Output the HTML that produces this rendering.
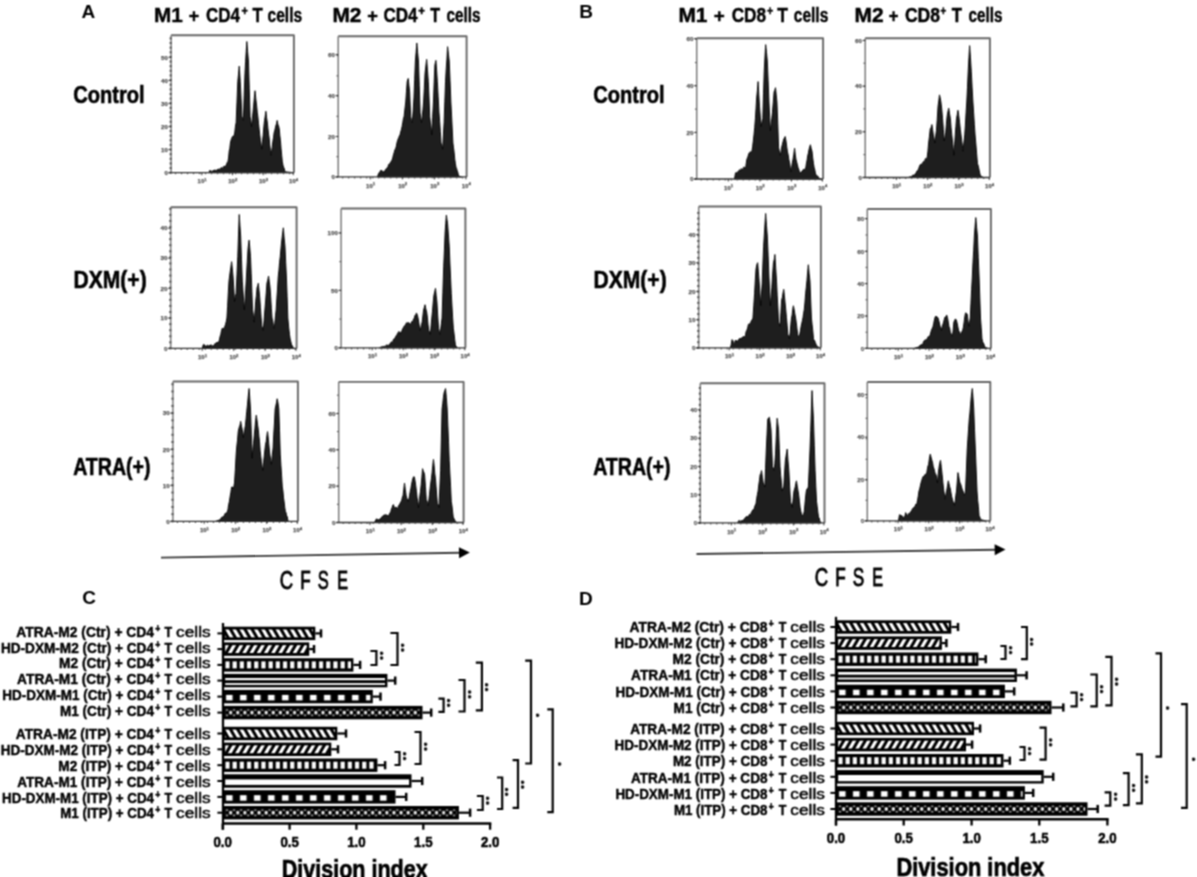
<!DOCTYPE html>
<html><head><meta charset="utf-8"><title>Figure</title>
<style>
html,body{margin:0;padding:0;background:#fff;}
body{width:1197px;height:877px;overflow:hidden;}
svg{display:block;will-change:transform;font-family:"Liberation Sans",Arial,Helvetica,sans-serif;}
</style></head><body>
<svg width="1197" height="877" viewBox="0 0 1197 877">
<filter id="soft" x="0" y="0" width="1197" height="877" filterUnits="userSpaceOnUse" color-interpolation-filters="sRGB"><feConvolveMatrix order="3" kernelMatrix="1 2 1 2 4 2 1 2 1" divisor="16.0" edgeMode="duplicate" preserveAlpha="false"/></filter>
<g filter="url(#soft)">
<rect width="1197" height="877" fill="#fff"/>
<path d="M209.08,172.7 L209.08,172.7 L209.49,170.65 L210.17,170.42 L210.85,171.06 L211.54,171.27 L212.22,171.16 L212.91,171.06 L213.59,170.1 L214.27,171.23 L214.96,169.7 L215.64,170.65 L216.32,170.57 L217.01,169.98 L217.69,169.05 L218.38,169.99 L219.06,168.66 L219.74,169.63 L220.38,169.08 L221.03,167.8 L221.67,167.47 L222.31,167.9 L222.95,168.51 L223.59,166.39 L224.23,166.26 L224.87,166.55 L225.49,165.84 L226.1,165.6 L226.72,163.67 L227.33,162.2 L227.95,161.43 L228.56,157.99 L229.18,151.09 L229.79,148.48 L230.41,142.98 L231.03,140.21 L231.64,138.47 L232.26,136.93 L232.87,136.2 L233.49,136 L234.1,135.81 L234.79,132.15 L235.47,126.14 L236.15,122.49 L236.97,102.19 L237.79,81.5 L238.51,74.15 L239.23,66.13 L240.26,81.5 L241.08,98.6 L241.9,116.34 L242.62,118.51 L243.33,120.44 L244.15,95.79 L244.97,73.3 L245.59,61.63 L246.21,51.4 L246.82,41.53 L247.64,51.71 L248.46,61 L249.28,88.49 L250.1,116.34 L250.82,121.01 L251.54,126.59 L252.22,119.97 L252.91,112.81 L253.59,106.09 L254.31,97.91 L255.03,90.72 L255.85,99.13 L256.67,106.09 L257.28,112.32 L257.9,116.94 L258.51,123.49 L259.13,129.11 L259.74,134.78 L260.43,140.49 L261.11,144.91 L261.79,149.13 L262.48,141.09 L263.16,135.28 L263.85,126.59 L264.53,120.52 L265.21,116.14 L265.9,111.22 L266.58,117.65 L267.26,121.97 L267.95,128.64 L268.56,133.94 L269.18,138.16 L269.79,145.04 L270.41,150.6 L271.03,155.28 L271.64,150.95 L272.26,147.19 L272.87,141.29 L273.49,137.72 L274.1,132.73 L274.72,130.51 L275.33,128.01 L275.95,125.25 L276.56,123.73 L277.18,120.44 L277.86,124.26 L278.55,125.84 L279.23,128.64 L279.85,135.6 L280.46,140.67 L281.08,148.81 L281.69,155.23 L282.31,161.43 L282.97,165.2 L283.64,167.34 L284.31,168.58 L284.97,171.68 L285.59,171.75 L286.21,171.82 L286.82,171.89 L287.44,171.97 L288.05,172.04 L288.67,172.11 L289.28,172.19 L289.9,172.26 L290.51,172.33 L291.13,172.41 L291.74,172.48 L292.36,172.7 L292.97,172.7 L293.59,172.7 Z" fill="#1e1e1e" stroke="#000" stroke-width="0.9" stroke-linejoin="round"/>
<path d="M171.1,35.2 L293.9,35.2 L293.9,172.7" fill="none" stroke="#666" stroke-width="1.9" stroke-linejoin="round"/>
<line x1="171.1" y1="35.2" x2="171.1" y2="172.7" stroke="#7a7a7a" stroke-width="1.5"/>
<rect x="169.6" y="171.75" width="2.2" height="1.9" fill="#555"/>
<rect x="169.6" y="167.12" width="2.2" height="1.9" fill="#555"/>
<rect x="169.6" y="162.49" width="2.2" height="1.9" fill="#555"/>
<rect x="169.6" y="157.85" width="2.2" height="1.9" fill="#555"/>
<rect x="169.6" y="153.22" width="2.2" height="1.9" fill="#555"/>
<rect x="169.6" y="148.59" width="2.2" height="1.9" fill="#555"/>
<rect x="169.6" y="143.96" width="2.2" height="1.9" fill="#555"/>
<rect x="169.6" y="139.33" width="2.2" height="1.9" fill="#555"/>
<rect x="169.6" y="134.7" width="2.2" height="1.9" fill="#555"/>
<rect x="169.6" y="130.06" width="2.2" height="1.9" fill="#555"/>
<rect x="169.6" y="125.43" width="2.2" height="1.9" fill="#555"/>
<rect x="169.6" y="120.8" width="2.2" height="1.9" fill="#555"/>
<rect x="169.6" y="116.17" width="2.2" height="1.9" fill="#555"/>
<rect x="169.6" y="111.54" width="2.2" height="1.9" fill="#555"/>
<rect x="169.6" y="106.9" width="2.2" height="1.9" fill="#555"/>
<rect x="169.6" y="102.27" width="2.2" height="1.9" fill="#555"/>
<rect x="169.6" y="97.64" width="2.2" height="1.9" fill="#555"/>
<rect x="169.6" y="93.01" width="2.2" height="1.9" fill="#555"/>
<rect x="169.6" y="88.38" width="2.2" height="1.9" fill="#555"/>
<rect x="169.6" y="83.74" width="2.2" height="1.9" fill="#555"/>
<rect x="169.6" y="79.11" width="2.2" height="1.9" fill="#555"/>
<rect x="169.6" y="74.48" width="2.2" height="1.9" fill="#555"/>
<rect x="169.6" y="69.85" width="2.2" height="1.9" fill="#555"/>
<rect x="169.6" y="65.22" width="2.2" height="1.9" fill="#555"/>
<rect x="169.6" y="60.59" width="2.2" height="1.9" fill="#555"/>
<rect x="169.6" y="55.95" width="2.2" height="1.9" fill="#555"/>
<rect x="169.6" y="51.32" width="2.2" height="1.9" fill="#555"/>
<rect x="169.6" y="46.69" width="2.2" height="1.9" fill="#555"/>
<rect x="169.6" y="42.06" width="2.2" height="1.9" fill="#555"/>
<rect x="169.6" y="37.43" width="2.2" height="1.9" fill="#555"/>
<line x1="168.6" y1="172.7" x2="293.9" y2="172.7" stroke="#333" stroke-width="1.3"/>
<line x1="175.1" y1="173.5" x2="293.9" y2="173.5" stroke="#444" stroke-width="1.6" stroke-dasharray="1 5"/>
<line x1="168.6" y1="172.7" x2="171.1" y2="172.7" stroke="#333" stroke-width="1"/>
<text x="167.9" y="174.9" font-size="6.2" fill="#555" text-anchor="end" font-weight="bold" stroke="#555" stroke-width="0.25">0</text>
<line x1="168.6" y1="149.54" x2="171.1" y2="149.54" stroke="#333" stroke-width="1"/>
<text x="167.9" y="151.74" font-size="6.2" fill="#555" text-anchor="end" font-weight="bold" stroke="#555" stroke-width="0.25">10</text>
<line x1="168.6" y1="126.59" x2="171.1" y2="126.59" stroke="#333" stroke-width="1"/>
<text x="167.9" y="128.79" font-size="6.2" fill="#555" text-anchor="end" font-weight="bold" stroke="#555" stroke-width="0.25">20</text>
<line x1="168.6" y1="103.43" x2="171.1" y2="103.43" stroke="#333" stroke-width="1"/>
<text x="167.9" y="105.63" font-size="6.2" fill="#555" text-anchor="end" font-weight="bold" stroke="#555" stroke-width="0.25">30</text>
<line x1="168.6" y1="80.47" x2="171.1" y2="80.47" stroke="#333" stroke-width="1"/>
<text x="167.9" y="82.67" font-size="6.2" fill="#555" text-anchor="end" font-weight="bold" stroke="#555" stroke-width="0.25">40</text>
<line x1="168.6" y1="57.31" x2="171.1" y2="57.31" stroke="#333" stroke-width="1"/>
<text x="167.9" y="59.51" font-size="6.2" fill="#555" text-anchor="end" font-weight="bold" stroke="#555" stroke-width="0.25">50</text>
<line x1="201.8" y1="172.7" x2="201.8" y2="175.2" stroke="#333" stroke-width="1"/>
<text x="202.1" y="183.3" font-size="6" fill="#555" stroke="#555" stroke-width="0.25" text-anchor="middle" font-weight="bold">10<tspan font-size="4.2" dy="-2.4">1</tspan></text>
<line x1="232.5" y1="172.7" x2="232.5" y2="175.2" stroke="#333" stroke-width="1"/>
<text x="232.8" y="183.3" font-size="6" fill="#555" stroke="#555" stroke-width="0.25" text-anchor="middle" font-weight="bold">10<tspan font-size="4.2" dy="-2.4">2</tspan></text>
<line x1="263.2" y1="172.7" x2="263.2" y2="175.2" stroke="#333" stroke-width="1"/>
<text x="263.5" y="183.3" font-size="6" fill="#555" stroke="#555" stroke-width="0.25" text-anchor="middle" font-weight="bold">10<tspan font-size="4.2" dy="-2.4">3</tspan></text>
<line x1="293.29" y1="172.7" x2="293.29" y2="175.2" stroke="#333" stroke-width="1"/>
<text x="293.59" y="183.3" font-size="6" fill="#555" stroke="#555" stroke-width="0.25" text-anchor="middle" font-weight="bold">10<tspan font-size="4.2" dy="-2.4">4</tspan></text>
<path d="M377.44,176.9 L377.44,176.9 L378.46,173.82 L379.15,172.52 L379.83,172.19 L380.51,170.75 L381.13,169.98 L381.74,171.47 L382.36,171.16 L382.97,171.45 L383.59,172.8 L384.21,170.89 L384.82,171.82 L385.44,169.42 L386.05,168.9 L386.67,168.7 L387.28,167.4 L387.9,167.56 L388.51,164.59 L389.13,164.47 L389.74,163.57 L390.36,162.46 L390.97,162.05 L391.59,160.66 L392.21,159.54 L392.82,157.42 L393.5,154.48 L394.19,152.42 L394.87,149.89 L395.56,148.79 L396.24,146.58 L396.92,143.06 L397.54,140.56 L398.15,138.98 L398.77,137.48 L399.38,135.84 L400,134.86 L400.68,132.08 L401.37,129.61 L402.05,126.65 L402.74,122.65 L403.42,118.59 L404.1,116.4 L404.92,109.02 L405.74,102.04 L406.46,91.46 L407.18,81.53 L408.21,78.45 L408.92,85.28 L409.64,91.79 L410.67,116.4 L411.49,120.59 L412.31,122.55 L413.13,110.71 L413.95,97.94 L414.67,79.52 L415.38,61.02 L416.1,52.29 L416.82,42.97 L417.64,52.43 L418.46,61.02 L419.28,85.56 L420.1,112.3 L420.82,118.41 L421.54,122.55 L422.22,116.4 L422.91,109.8 L423.59,102.04 L424.31,88.42 L425.03,73.33 L425.85,66.09 L426.67,59.38 L427.49,70.21 L428.31,81.53 L429.03,97.99 L429.74,116.4 L430.43,122.88 L431.11,127.63 L431.79,134.86 L432.62,117.38 L433.44,102.04 L434.15,82.87 L434.87,65.12 L435.9,60.41 L436.62,70.14 L437.33,81.53 L438.15,96.52 L438.97,112.3 L439.66,121.45 L440.34,131.57 L441.03,143.06 L441.85,145.28 L442.67,149.21 L443.38,134.9 L444.1,122.55 L444.82,101.7 L445.54,81.53 L446.22,68.74 L446.91,59.21 L447.59,46.66 L448.41,54.12 L449.23,61.02 L450.05,80.67 L450.87,102.04 L451.56,115.1 L452.24,129.01 L452.92,143.06 L453.54,147.85 L454.15,152.39 L454.77,159.3 L455.38,163.57 L456,167.24 L456.62,168.41 L457.23,170.91 L457.85,172.39 L458.46,175.87 L459.08,176.08 L459.69,176.28 L460.31,176.49 L460.92,176.9 L461.54,176.9 Z" fill="#1e1e1e" stroke="#000" stroke-width="0.9" stroke-linejoin="round"/>
<path d="M338.2,36.2 L466.6,36.2 L466.6,176.9" fill="none" stroke="#666" stroke-width="1.9" stroke-linejoin="round"/>
<line x1="338.2" y1="36.2" x2="338.2" y2="176.9" stroke="#7a7a7a" stroke-width="1.5"/>
<line x1="336.4" y1="176.9" x2="338.2" y2="176.9" stroke="#444" stroke-width="0.9"/>
<line x1="336.4" y1="156.7" x2="338.2" y2="156.7" stroke="#444" stroke-width="0.9"/>
<line x1="336.4" y1="136.5" x2="338.2" y2="136.5" stroke="#444" stroke-width="0.9"/>
<line x1="336.4" y1="116.29" x2="338.2" y2="116.29" stroke="#444" stroke-width="0.9"/>
<line x1="336.4" y1="96.09" x2="338.2" y2="96.09" stroke="#444" stroke-width="0.9"/>
<line x1="336.4" y1="75.89" x2="338.2" y2="75.89" stroke="#444" stroke-width="0.9"/>
<line x1="336.4" y1="55.69" x2="338.2" y2="55.69" stroke="#444" stroke-width="0.9"/>
<line x1="335.7" y1="176.9" x2="466.6" y2="176.9" stroke="#333" stroke-width="1.3"/>
<line x1="342.2" y1="177.7" x2="466.6" y2="177.7" stroke="#444" stroke-width="1.6" stroke-dasharray="1 5"/>
<line x1="335.7" y1="176.9" x2="338.2" y2="176.9" stroke="#333" stroke-width="1"/>
<text x="335" y="179.1" font-size="6.2" fill="#555" text-anchor="end" font-weight="bold" stroke="#555" stroke-width="0.25">0</text>
<line x1="335.7" y1="136.5" x2="338.2" y2="136.5" stroke="#333" stroke-width="1"/>
<text x="335" y="138.7" font-size="6.2" fill="#555" text-anchor="end" font-weight="bold" stroke="#555" stroke-width="0.25">20</text>
<line x1="335.7" y1="95.48" x2="338.2" y2="95.48" stroke="#333" stroke-width="1"/>
<text x="335" y="97.68" font-size="6.2" fill="#555" text-anchor="end" font-weight="bold" stroke="#555" stroke-width="0.25">40</text>
<line x1="335.7" y1="54.46" x2="338.2" y2="54.46" stroke="#333" stroke-width="1"/>
<text x="335" y="56.66" font-size="6.2" fill="#555" text-anchor="end" font-weight="bold" stroke="#555" stroke-width="0.25">60</text>
<line x1="370.3" y1="176.9" x2="370.3" y2="179.4" stroke="#333" stroke-width="1"/>
<text x="370.6" y="187.5" font-size="6" fill="#555" stroke="#555" stroke-width="0.25" text-anchor="middle" font-weight="bold">10<tspan font-size="4.2" dy="-2.4">1</tspan></text>
<line x1="402.4" y1="176.9" x2="402.4" y2="179.4" stroke="#333" stroke-width="1"/>
<text x="402.7" y="187.5" font-size="6" fill="#555" stroke="#555" stroke-width="0.25" text-anchor="middle" font-weight="bold">10<tspan font-size="4.2" dy="-2.4">2</tspan></text>
<line x1="434.5" y1="176.9" x2="434.5" y2="179.4" stroke="#333" stroke-width="1"/>
<text x="434.8" y="187.5" font-size="6" fill="#555" stroke="#555" stroke-width="0.25" text-anchor="middle" font-weight="bold">10<tspan font-size="4.2" dy="-2.4">3</tspan></text>
<line x1="465.96" y1="176.9" x2="465.96" y2="179.4" stroke="#333" stroke-width="1"/>
<text x="466.26" y="187.5" font-size="6" fill="#555" stroke="#555" stroke-width="0.25" text-anchor="middle" font-weight="bold">10<tspan font-size="4.2" dy="-2.4">4</tspan></text>
<path d="M202.31,348.4 L202.31,348.4 L203.03,345.37 L203.74,344.3 L204.56,344.94 L205.38,346.35 L206,345.71 L206.62,347.04 L207.23,345.33 L207.85,344.93 L208.46,347.15 L209.08,346.05 L209.69,345.05 L210.31,345.96 L210.92,344.63 L211.54,345.73 L212.22,345.46 L212.91,346.23 L213.59,345.6 L214.27,344.85 L214.96,343.44 L215.64,343.68 L216.26,342.95 L216.87,342.04 L217.49,343.12 L218.1,342.12 L218.72,341.63 L219.4,339.93 L220.09,336.43 L220.77,334.45 L221.49,330.7 L222.21,328.3 L222.87,328.56 L223.54,328.47 L224.21,327.63 L224.87,326.25 L225.56,324.27 L226.24,321.57 L226.92,318.05 L227.61,306.33 L228.29,292.77 L228.97,281.14 L230,272.93 L230.82,267.34 L231.64,261.65 L232.36,268.99 L233.08,277.03 L233.79,288.18 L234.51,301.64 L235.33,296.38 L236.15,293.44 L236.97,274.44 L237.79,256.53 L238.51,234.91 L239.23,214.49 L239.95,225.73 L240.67,236.02 L241.49,259.7 L242.31,281.14 L242.99,290.58 L243.68,301.35 L244.36,309.85 L245.04,300.11 L245.73,289.09 L246.41,277.03 L247.23,262.35 L248.05,248.32 L249.08,240.12 L249.79,247.63 L250.51,256.53 L251.2,273.63 L251.88,291.33 L252.56,309.85 L253.38,315.27 L254.21,322.15 L254.92,312.2 L255.64,301.64 L256.36,295.45 L257.08,287.29 L257.69,286.07 L258.31,283.19 L259.03,290.31 L259.74,297.54 L260.43,307.49 L261.11,317.42 L261.79,326.25 L262.51,327.28 L263.23,330.35 L264.05,320.49 L264.87,309.85 L265.56,301.97 L266.24,292.77 L266.92,283.19 L267.74,280.21 L268.56,276.01 L269.28,281.59 L270,287.29 L270.68,296.75 L271.37,308.51 L272.05,318.05 L272.74,321.05 L273.42,325.62 L274.1,328.3 L274.79,323.31 L275.47,315.74 L276.15,309.85 L276.84,298.67 L277.52,289.07 L278.21,277.03 L278.89,270.75 L279.57,262.55 L280.26,256.53 L280.94,248.77 L281.62,242 L282.31,236.02 L283.33,227.82 L284.15,238.04 L284.97,246.27 L285.69,262.41 L286.41,277.03 L287.13,296.67 L287.85,318.05 L288.67,327.06 L289.49,334.45 L290.17,339.05 L290.85,341.68 L291.54,344.71 L292.22,345.57 L292.91,347.17 L293.59,348.4 Z" fill="#1e1e1e" stroke="#000" stroke-width="0.9" stroke-linejoin="round"/>
<path d="M170.7,207.2 L296.6,207.2 L296.6,348.4" fill="none" stroke="#666" stroke-width="1.9" stroke-linejoin="round"/>
<line x1="170.7" y1="207.2" x2="170.7" y2="348.4" stroke="#7a7a7a" stroke-width="1.5"/>
<rect x="169.2" y="347.45" width="2.2" height="1.9" fill="#555"/>
<rect x="169.2" y="341.38" width="2.2" height="1.9" fill="#555"/>
<rect x="169.2" y="335.31" width="2.2" height="1.9" fill="#555"/>
<rect x="169.2" y="329.24" width="2.2" height="1.9" fill="#555"/>
<rect x="169.2" y="323.17" width="2.2" height="1.9" fill="#555"/>
<rect x="169.2" y="317.1" width="2.2" height="1.9" fill="#555"/>
<rect x="169.2" y="311.03" width="2.2" height="1.9" fill="#555"/>
<rect x="169.2" y="304.96" width="2.2" height="1.9" fill="#555"/>
<rect x="169.2" y="298.89" width="2.2" height="1.9" fill="#555"/>
<rect x="169.2" y="292.82" width="2.2" height="1.9" fill="#555"/>
<rect x="169.2" y="286.75" width="2.2" height="1.9" fill="#555"/>
<rect x="169.2" y="280.68" width="2.2" height="1.9" fill="#555"/>
<rect x="169.2" y="274.61" width="2.2" height="1.9" fill="#555"/>
<rect x="169.2" y="268.54" width="2.2" height="1.9" fill="#555"/>
<rect x="169.2" y="262.47" width="2.2" height="1.9" fill="#555"/>
<rect x="169.2" y="256.4" width="2.2" height="1.9" fill="#555"/>
<rect x="169.2" y="250.33" width="2.2" height="1.9" fill="#555"/>
<rect x="169.2" y="244.26" width="2.2" height="1.9" fill="#555"/>
<rect x="169.2" y="238.19" width="2.2" height="1.9" fill="#555"/>
<rect x="169.2" y="232.12" width="2.2" height="1.9" fill="#555"/>
<rect x="169.2" y="226.04" width="2.2" height="1.9" fill="#555"/>
<rect x="169.2" y="219.97" width="2.2" height="1.9" fill="#555"/>
<rect x="169.2" y="213.9" width="2.2" height="1.9" fill="#555"/>
<rect x="169.2" y="207.83" width="2.2" height="1.9" fill="#555"/>
<line x1="168.2" y1="348.4" x2="296.6" y2="348.4" stroke="#333" stroke-width="1.3"/>
<line x1="174.7" y1="349.2" x2="296.6" y2="349.2" stroke="#444" stroke-width="1.6" stroke-dasharray="1 5"/>
<line x1="168.2" y1="348.4" x2="170.7" y2="348.4" stroke="#333" stroke-width="1"/>
<text x="167.5" y="350.6" font-size="6.2" fill="#555" text-anchor="end" font-weight="bold" stroke="#555" stroke-width="0.25">0</text>
<line x1="168.2" y1="318.05" x2="170.7" y2="318.05" stroke="#333" stroke-width="1"/>
<text x="167.5" y="320.25" font-size="6.2" fill="#555" text-anchor="end" font-weight="bold" stroke="#555" stroke-width="0.25">10</text>
<line x1="168.2" y1="288.31" x2="170.7" y2="288.31" stroke="#333" stroke-width="1"/>
<text x="167.5" y="290.51" font-size="6.2" fill="#555" text-anchor="end" font-weight="bold" stroke="#555" stroke-width="0.25">20</text>
<line x1="168.2" y1="258.17" x2="170.7" y2="258.17" stroke="#333" stroke-width="1"/>
<text x="167.5" y="260.37" font-size="6.2" fill="#555" text-anchor="end" font-weight="bold" stroke="#555" stroke-width="0.25">30</text>
<line x1="168.2" y1="228.23" x2="170.7" y2="228.23" stroke="#333" stroke-width="1"/>
<text x="167.5" y="230.43" font-size="6.2" fill="#555" text-anchor="end" font-weight="bold" stroke="#555" stroke-width="0.25">40</text>
<line x1="202.18" y1="348.4" x2="202.18" y2="350.9" stroke="#333" stroke-width="1"/>
<text x="202.48" y="359" font-size="6" fill="#555" stroke="#555" stroke-width="0.25" text-anchor="middle" font-weight="bold">10<tspan font-size="4.2" dy="-2.4">1</tspan></text>
<line x1="233.65" y1="348.4" x2="233.65" y2="350.9" stroke="#333" stroke-width="1"/>
<text x="233.95" y="359" font-size="6" fill="#555" stroke="#555" stroke-width="0.25" text-anchor="middle" font-weight="bold">10<tspan font-size="4.2" dy="-2.4">2</tspan></text>
<line x1="265.12" y1="348.4" x2="265.12" y2="350.9" stroke="#333" stroke-width="1"/>
<text x="265.43" y="359" font-size="6" fill="#555" stroke="#555" stroke-width="0.25" text-anchor="middle" font-weight="bold">10<tspan font-size="4.2" dy="-2.4">3</tspan></text>
<line x1="295.97" y1="348.4" x2="295.97" y2="350.9" stroke="#333" stroke-width="1"/>
<text x="296.27" y="359" font-size="6" fill="#555" stroke="#555" stroke-width="0.25" text-anchor="middle" font-weight="bold">10<tspan font-size="4.2" dy="-2.4">4</tspan></text>
<path d="M379.49,347.8 L379.49,347.8 L380.17,347.46 L380.85,347.12 L381.54,346.77 L382.15,346.67 L382.77,346.57 L383.38,346.47 L384,346.36 L384.62,346.26 L385.23,346.16 L385.85,346.18 L386.46,345.05 L387.08,344.66 L387.69,345.75 L388.31,346.29 L388.92,344.89 L389.54,343.97 L390.15,344.36 L390.77,342.67 L391.45,341.83 L392.14,342.22 L392.82,341.42 L393.5,339.23 L394.19,338.64 L394.87,338.57 L395.56,336.86 L396.24,335.54 L396.92,335.19 L397.61,333.19 L398.29,332.39 L398.97,331.39 L400,334.47 L400.68,332.19 L401.37,332.74 L402.05,330.37 L402.74,328.64 L403.42,327.53 L404.1,326.26 L404.79,325.44 L405.47,325.21 L406.15,323.19 L406.84,322.65 L407.52,323.53 L408.21,322.16 L408.89,322.85 L409.57,323.61 L410.26,324.21 L410.94,323.59 L411.62,321.66 L412.31,322.16 L412.99,320.65 L413.68,318.65 L414.36,318.06 L415.04,315.13 L415.73,315.38 L416.41,312.93 L417.23,314.69 L418.05,318.06 L418.74,322.1 L419.42,326.82 L420.1,330.37 L420.79,327.77 L421.47,324.47 L422.15,322.16 L422.87,316.05 L423.59,309.86 L424.31,307.43 L425.03,304.73 L425.85,309.02 L426.67,311.91 L427.35,317.09 L428.03,324.36 L428.72,330.37 L429.54,331.8 L430.36,334.47 L431.08,325.72 L431.79,318.06 L432.48,311.21 L433.16,303.04 L433.85,295.5 L434.67,292.06 L435.49,288.32 L436.21,295.63 L436.92,301.65 L437.74,316 L438.56,328.32 L439.28,331.25 L440,334.47 L440.68,329.28 L441.37,323.54 L442.05,318.06 L442.87,292.45 L443.69,266.79 L444.41,249.83 L445.13,231.92 L445.74,223.39 L446.36,215.1 L446.97,219.49 L447.59,223.72 L448.41,234.94 L449.23,246.28 L449.91,263.09 L450.6,278.22 L451.28,293.45 L451.97,306 L452.65,317.78 L453.33,328.32 L454.02,333.19 L454.7,339.4 L455.38,344.72 L456.07,346.84 L456.75,346.77 L457.44,347.8 Z" fill="#1e1e1e" stroke="#000" stroke-width="0.9" stroke-linejoin="round"/>
<path d="M341.1,208.5 L465.4,208.5 L465.4,347.8" fill="none" stroke="#666" stroke-width="1.9" stroke-linejoin="round"/>
<line x1="341.1" y1="208.5" x2="341.1" y2="347.8" stroke="#7a7a7a" stroke-width="1.5"/>
<line x1="339.3" y1="347.8" x2="341.1" y2="347.8" stroke="#444" stroke-width="0.9"/>
<line x1="339.3" y1="319.09" x2="341.1" y2="319.09" stroke="#444" stroke-width="0.9"/>
<line x1="339.3" y1="290.37" x2="341.1" y2="290.37" stroke="#444" stroke-width="0.9"/>
<line x1="339.3" y1="261.66" x2="341.1" y2="261.66" stroke="#444" stroke-width="0.9"/>
<line x1="339.3" y1="232.95" x2="341.1" y2="232.95" stroke="#444" stroke-width="0.9"/>
<line x1="338.6" y1="347.8" x2="465.4" y2="347.8" stroke="#333" stroke-width="1.3"/>
<line x1="345.1" y1="348.6" x2="465.4" y2="348.6" stroke="#444" stroke-width="1.6" stroke-dasharray="1 5"/>
<line x1="338.6" y1="347.8" x2="341.1" y2="347.8" stroke="#333" stroke-width="1"/>
<text x="337.9" y="350" font-size="6.2" fill="#555" text-anchor="end" font-weight="bold" stroke="#555" stroke-width="0.25">0</text>
<line x1="338.6" y1="290.37" x2="341.1" y2="290.37" stroke="#333" stroke-width="1"/>
<text x="337.9" y="292.57" font-size="6.2" fill="#555" text-anchor="end" font-weight="bold" stroke="#555" stroke-width="0.25">50</text>
<line x1="338.6" y1="232.95" x2="341.1" y2="232.95" stroke="#333" stroke-width="1"/>
<text x="337.9" y="235.15" font-size="6.2" fill="#555" text-anchor="end" font-weight="bold" stroke="#555" stroke-width="0.25">100</text>
<line x1="372.18" y1="347.8" x2="372.18" y2="350.3" stroke="#333" stroke-width="1"/>
<text x="372.48" y="358.4" font-size="6" fill="#555" stroke="#555" stroke-width="0.25" text-anchor="middle" font-weight="bold">10<tspan font-size="4.2" dy="-2.4">1</tspan></text>
<line x1="403.25" y1="347.8" x2="403.25" y2="350.3" stroke="#333" stroke-width="1"/>
<text x="403.55" y="358.4" font-size="6" fill="#555" stroke="#555" stroke-width="0.25" text-anchor="middle" font-weight="bold">10<tspan font-size="4.2" dy="-2.4">2</tspan></text>
<line x1="434.32" y1="347.8" x2="434.32" y2="350.3" stroke="#333" stroke-width="1"/>
<text x="434.62" y="358.4" font-size="6" fill="#555" stroke="#555" stroke-width="0.25" text-anchor="middle" font-weight="bold">10<tspan font-size="4.2" dy="-2.4">3</tspan></text>
<line x1="464.78" y1="347.8" x2="464.78" y2="350.3" stroke="#333" stroke-width="1"/>
<text x="465.08" y="358.4" font-size="6" fill="#555" stroke="#555" stroke-width="0.25" text-anchor="middle" font-weight="bold">10<tspan font-size="4.2" dy="-2.4">4</tspan></text>
<path d="M215.64,521.4 L215.64,521.4 L216.32,521.13 L217.01,520.85 L217.69,520.58 L218.38,520.31 L219.06,520.03 L219.74,519.76 L220.43,520.08 L221.11,517.84 L221.79,517.29 L222.48,517.57 L223.16,516.14 L223.85,516.68 L224.53,514.85 L225.21,513.24 L225.9,513.51 L226.58,512.6 L227.26,511.68 L227.95,509.51 L228.63,504.55 L229.32,501.83 L230,497.2 L230.82,492.47 L231.64,486.95 L232.36,487.09 L233.08,489 L233.79,486.86 L234.51,482.85 L235.33,469.64 L236.15,454.14 L236.84,445.93 L237.52,440.21 L238.21,431.58 L238.82,428.76 L239.44,426.42 L240.05,425.09 L240.67,421.32 L241.49,426.24 L242.31,429.53 L243.33,437.73 L244.02,432.79 L244.7,429.36 L245.38,425.42 L246.07,418.63 L246.75,411.36 L247.44,404.92 L248.26,395.97 L249.08,388.51 L249.79,398.32 L250.51,409.02 L251.33,434.17 L252.15,458.24 L252.84,449.53 L253.52,443.33 L254.21,435.68 L254.89,428.7 L255.57,420.82 L256.26,415.17 L256.94,419.54 L257.62,425.05 L258.31,429.53 L258.92,436.22 L259.54,441.78 L260.15,450.71 L260.77,456.19 L261.45,461.68 L262.14,466.92 L262.82,470.54 L263.5,462.73 L264.19,456.29 L264.87,450.03 L265.54,444.29 L266.21,441.49 L266.87,435.63 L267.54,431.58 L268.15,436.82 L268.77,443.69 L269.38,450.03 L270.07,455.83 L270.75,460.39 L271.44,464.39 L272.26,455.59 L273.08,447.98 L273.76,434.13 L274.44,423.04 L275.13,409.02 L275.81,405.77 L276.5,402.68 L277.18,398.76 L278,402.88 L278.82,409.02 L279.54,430.49 L280.26,454.14 L280.94,465.54 L281.62,475.83 L282.31,486.95 L282.92,490.82 L283.54,497.87 L284.15,502.04 L284.77,507.38 L285.38,511.56 L286,512.5 L286.62,516.37 L287.23,516.4 L287.85,520.32 L288.46,521.4 Z" fill="#1e1e1e" stroke="#000" stroke-width="0.9" stroke-linejoin="round"/>
<path d="M172.9,381.5 L297.9,381.5 L297.9,521.4" fill="none" stroke="#666" stroke-width="1.9" stroke-linejoin="round"/>
<line x1="172.9" y1="381.5" x2="172.9" y2="521.4" stroke="#7a7a7a" stroke-width="1.5"/>
<rect x="171.4" y="520.45" width="2.2" height="1.9" fill="#555"/>
<rect x="171.4" y="513.23" width="2.2" height="1.9" fill="#555"/>
<rect x="171.4" y="506.01" width="2.2" height="1.9" fill="#555"/>
<rect x="171.4" y="498.79" width="2.2" height="1.9" fill="#555"/>
<rect x="171.4" y="491.58" width="2.2" height="1.9" fill="#555"/>
<rect x="171.4" y="484.36" width="2.2" height="1.9" fill="#555"/>
<rect x="171.4" y="477.14" width="2.2" height="1.9" fill="#555"/>
<rect x="171.4" y="469.92" width="2.2" height="1.9" fill="#555"/>
<rect x="171.4" y="462.7" width="2.2" height="1.9" fill="#555"/>
<rect x="171.4" y="455.48" width="2.2" height="1.9" fill="#555"/>
<rect x="171.4" y="448.26" width="2.2" height="1.9" fill="#555"/>
<rect x="171.4" y="441.04" width="2.2" height="1.9" fill="#555"/>
<rect x="171.4" y="433.83" width="2.2" height="1.9" fill="#555"/>
<rect x="171.4" y="426.61" width="2.2" height="1.9" fill="#555"/>
<rect x="171.4" y="419.39" width="2.2" height="1.9" fill="#555"/>
<rect x="171.4" y="412.17" width="2.2" height="1.9" fill="#555"/>
<rect x="171.4" y="404.95" width="2.2" height="1.9" fill="#555"/>
<rect x="171.4" y="397.73" width="2.2" height="1.9" fill="#555"/>
<rect x="171.4" y="390.51" width="2.2" height="1.9" fill="#555"/>
<rect x="171.4" y="383.3" width="2.2" height="1.9" fill="#555"/>
<line x1="170.4" y1="521.4" x2="297.9" y2="521.4" stroke="#333" stroke-width="1.3"/>
<line x1="176.9" y1="522.2" x2="297.9" y2="522.2" stroke="#444" stroke-width="1.6" stroke-dasharray="1 5"/>
<line x1="170.4" y1="521.4" x2="172.9" y2="521.4" stroke="#333" stroke-width="1"/>
<text x="169.7" y="523.6" font-size="6.2" fill="#555" text-anchor="end" font-weight="bold" stroke="#555" stroke-width="0.25">0</text>
<line x1="170.4" y1="485.31" x2="172.9" y2="485.31" stroke="#333" stroke-width="1"/>
<text x="169.7" y="487.51" font-size="6.2" fill="#555" text-anchor="end" font-weight="bold" stroke="#555" stroke-width="0.25">10</text>
<line x1="170.4" y1="449.42" x2="172.9" y2="449.42" stroke="#333" stroke-width="1"/>
<text x="169.7" y="451.62" font-size="6.2" fill="#555" text-anchor="end" font-weight="bold" stroke="#555" stroke-width="0.25">20</text>
<line x1="170.4" y1="413.12" x2="172.9" y2="413.12" stroke="#333" stroke-width="1"/>
<text x="169.7" y="415.32" font-size="6.2" fill="#555" text-anchor="end" font-weight="bold" stroke="#555" stroke-width="0.25">30</text>
<line x1="204.15" y1="521.4" x2="204.15" y2="523.9" stroke="#333" stroke-width="1"/>
<text x="204.45" y="532" font-size="6" fill="#555" stroke="#555" stroke-width="0.25" text-anchor="middle" font-weight="bold">10<tspan font-size="4.2" dy="-2.4">1</tspan></text>
<line x1="235.4" y1="521.4" x2="235.4" y2="523.9" stroke="#333" stroke-width="1"/>
<text x="235.7" y="532" font-size="6" fill="#555" stroke="#555" stroke-width="0.25" text-anchor="middle" font-weight="bold">10<tspan font-size="4.2" dy="-2.4">2</tspan></text>
<line x1="266.65" y1="521.4" x2="266.65" y2="523.9" stroke="#333" stroke-width="1"/>
<text x="266.95" y="532" font-size="6" fill="#555" stroke="#555" stroke-width="0.25" text-anchor="middle" font-weight="bold">10<tspan font-size="4.2" dy="-2.4">3</tspan></text>
<line x1="297.27" y1="521.4" x2="297.27" y2="523.9" stroke="#333" stroke-width="1"/>
<text x="297.57" y="532" font-size="6" fill="#555" stroke="#555" stroke-width="0.25" text-anchor="middle" font-weight="bold">10<tspan font-size="4.2" dy="-2.4">4</tspan></text>
<path d="M374.36,522.5 L374.36,522.5 L375.04,521.34 L375.73,520.06 L376.41,519.01 L377.03,518.82 L377.64,519.55 L378.26,520.68 L378.87,519.26 L379.49,520.03 L380.1,518.5 L380.72,518.87 L381.33,517.54 L381.95,516.61 L382.56,516.95 L383.18,515.71 L383.79,515.02 L384.41,514.98 L385.03,514.84 L385.64,514.9 L386.26,514.62 L386.87,515.95 L387.49,515 L388.1,515.72 L388.72,515.92 L389.4,513.76 L390.09,512.81 L390.77,511.81 L391.44,508.83 L392.1,507.6 L392.77,505.23 L393.44,504.62 L394.15,506.74 L394.87,507.71 L395.49,507.83 L396.1,506.94 L396.72,507.64 L397.33,508.78 L397.95,507.71 L398.56,505.5 L399.18,506.03 L399.79,503.84 L400.41,502.76 L401.03,501.54 L401.71,500.31 L402.39,497.17 L403.08,495.38 L403.79,489.23 L404.51,483.05 L405.33,489.67 L406.15,495.38 L406.84,498.62 L407.52,499.1 L408.21,501.54 L408.89,498.94 L409.57,495.2 L410.26,491.27 L410.87,488.52 L411.49,484.87 L412.1,481.64 L412.72,478.94 L413.54,476.81 L414.36,476.88 L415.04,480.76 L415.73,485.41 L416.41,491.27 L417.09,497.34 L417.78,501.62 L418.46,507.71 L419.15,501.4 L419.83,495.72 L420.51,491.27 L421.2,484.57 L421.88,477.11 L422.56,468.66 L423.25,471.14 L423.93,472.24 L424.62,474.83 L425.44,486.52 L426.26,499.49 L426.94,501.03 L427.62,503.5 L428.31,505.65 L428.92,499.16 L429.54,494.22 L430.15,488.11 L430.77,483.05 L431.44,478.28 L432.1,472.4 L432.77,465.44 L433.44,459.42 L434.12,465.29 L434.8,473.58 L435.49,478.94 L436.1,486.69 L436.72,495.02 L437.33,503.6 L438.15,504.42 L438.97,507.71 L439.79,488.92 L440.62,470.72 L441.33,439.83 L442.05,409.07 L442.74,403.6 L443.42,397.38 L444.1,392.63 L444.82,390.59 L445.54,388.53 L446.36,397.58 L447.18,409.07 L447.86,425.62 L448.55,442.31 L449.23,460.44 L449.91,473.9 L450.6,486.71 L451.28,501.54 L451.97,505.84 L452.65,512.02 L453.33,517.98 L453.95,518.22 L454.56,520 L455.18,520.76 L455.79,521.6 L456.41,522.5 Z" fill="#1e1e1e" stroke="#000" stroke-width="0.9" stroke-linejoin="round"/>
<path d="M338.7,381.9 L463.6,381.9 L463.6,522.5" fill="none" stroke="#666" stroke-width="1.9" stroke-linejoin="round"/>
<line x1="338.7" y1="381.9" x2="338.7" y2="522.5" stroke="#7a7a7a" stroke-width="1.5"/>
<line x1="336.9" y1="522.5" x2="338.7" y2="522.5" stroke="#444" stroke-width="0.9"/>
<line x1="336.9" y1="504.31" x2="338.7" y2="504.31" stroke="#444" stroke-width="0.9"/>
<line x1="336.9" y1="486.13" x2="338.7" y2="486.13" stroke="#444" stroke-width="0.9"/>
<line x1="336.9" y1="467.94" x2="338.7" y2="467.94" stroke="#444" stroke-width="0.9"/>
<line x1="336.9" y1="449.76" x2="338.7" y2="449.76" stroke="#444" stroke-width="0.9"/>
<line x1="336.9" y1="431.57" x2="338.7" y2="431.57" stroke="#444" stroke-width="0.9"/>
<line x1="336.9" y1="413.39" x2="338.7" y2="413.39" stroke="#444" stroke-width="0.9"/>
<line x1="336.9" y1="395.2" x2="338.7" y2="395.2" stroke="#444" stroke-width="0.9"/>
<line x1="336.2" y1="522.5" x2="463.6" y2="522.5" stroke="#333" stroke-width="1.3"/>
<line x1="342.7" y1="523.3" x2="463.6" y2="523.3" stroke="#444" stroke-width="1.6" stroke-dasharray="1 5"/>
<line x1="336.2" y1="522.5" x2="338.7" y2="522.5" stroke="#333" stroke-width="1"/>
<text x="335.5" y="524.7" font-size="6.2" fill="#555" text-anchor="end" font-weight="bold" stroke="#555" stroke-width="0.25">0</text>
<line x1="336.2" y1="486.13" x2="338.7" y2="486.13" stroke="#333" stroke-width="1"/>
<text x="335.5" y="488.33" font-size="6.2" fill="#555" text-anchor="end" font-weight="bold" stroke="#555" stroke-width="0.25">20</text>
<line x1="336.2" y1="449.76" x2="338.7" y2="449.76" stroke="#333" stroke-width="1"/>
<text x="335.5" y="451.96" font-size="6.2" fill="#555" text-anchor="end" font-weight="bold" stroke="#555" stroke-width="0.25">40</text>
<line x1="336.2" y1="413.59" x2="338.7" y2="413.59" stroke="#333" stroke-width="1"/>
<text x="335.5" y="415.79" font-size="6.2" fill="#555" text-anchor="end" font-weight="bold" stroke="#555" stroke-width="0.25">60</text>
<line x1="369.93" y1="522.5" x2="369.93" y2="525" stroke="#333" stroke-width="1"/>
<text x="370.23" y="533.1" font-size="6" fill="#555" stroke="#555" stroke-width="0.25" text-anchor="middle" font-weight="bold">10<tspan font-size="4.2" dy="-2.4">1</tspan></text>
<line x1="401.15" y1="522.5" x2="401.15" y2="525" stroke="#333" stroke-width="1"/>
<text x="401.45" y="533.1" font-size="6" fill="#555" stroke="#555" stroke-width="0.25" text-anchor="middle" font-weight="bold">10<tspan font-size="4.2" dy="-2.4">2</tspan></text>
<line x1="432.38" y1="522.5" x2="432.38" y2="525" stroke="#333" stroke-width="1"/>
<text x="432.68" y="533.1" font-size="6" fill="#555" stroke="#555" stroke-width="0.25" text-anchor="middle" font-weight="bold">10<tspan font-size="4.2" dy="-2.4">3</tspan></text>
<line x1="462.98" y1="522.5" x2="462.98" y2="525" stroke="#333" stroke-width="1"/>
<text x="463.28" y="533.1" font-size="6" fill="#555" stroke="#555" stroke-width="0.25" text-anchor="middle" font-weight="bold">10<tspan font-size="4.2" dy="-2.4">4</tspan></text>
<path d="M734.49,179 L734.49,179 L735.51,172.85 L736.13,173.05 L736.74,172.41 L737.36,172.15 L737.97,172.14 L738.59,170.79 L739.27,170.18 L739.96,169.68 L740.64,170.96 L741.32,168.56 L742.01,169.64 L742.69,168.74 L743.31,168.68 L743.92,166.8 L744.54,168.34 L745.15,168.07 L745.77,166.69 L746.79,159.51 L747.48,157.77 L748.16,155.98 L748.85,153.35 L749.46,153.71 L750.08,151.65 L750.69,152.18 L751.31,151.72 L751.92,151.3 L752.61,146.66 L753.29,141.11 L753.97,134.89 L754.69,127.49 L755.41,118.48 L756.03,108.42 L756.64,97.96 L757.36,90.72 L758.08,81.55 L758.79,94.31 L759.51,106.17 L760.33,116.9 L761.15,126.68 L761.97,121.91 L762.79,118.48 L763.51,93.73 L764.23,71.29 L764.95,57.05 L765.67,44.62 L766.49,52.48 L767.31,61.03 L768.13,80.57 L768.95,102.06 L769.67,117.25 L770.38,130.79 L771.07,124.78 L771.75,118.79 L772.44,112.32 L773.26,102.37 L774.08,91.8 L774.79,90.2 L775.51,87.7 L776.23,94.86 L776.95,102.06 L777.77,123.41 L778.59,147.2 L779.41,152.04 L780.23,155.41 L780.95,151.91 L781.67,147.2 L782.35,144.47 L783.03,141.81 L783.72,138.99 L784.44,138.15 L785.15,136.53 L785.97,140.8 L786.79,147.2 L787.48,151.89 L788.16,154.8 L788.85,159.51 L789.53,162.56 L790.21,167.14 L790.9,171.82 L791.58,168.28 L792.26,162.89 L792.95,159.51 L793.77,154.46 L794.59,148.23 L795.31,155.04 L796.03,159.51 L796.71,162.23 L797.39,164.69 L798.08,167.72 L798.76,169.37 L799.44,171.59 L800.13,172.85 L800.81,172.82 L801.5,171.77 L802.18,170.79 L802.79,170.94 L803.41,169.34 L804.03,169.31 L804.64,169.37 L805.26,169.77 L805.87,167.08 L806.49,162.72 L807.1,160.09 L807.72,155.44 L808.33,153.35 L809.02,149.4 L809.7,147.04 L810.38,144.74 L811.21,148.44 L812.03,151.3 L812.74,157.93 L813.46,163.61 L814.15,167.46 L814.83,169.94 L815.51,173.87 L816.13,174.73 L816.74,175.43 L817.36,176.25 L817.97,176.21 L818.59,177.97 L819.21,178.23 L819.82,178.49 L820.44,178.74 L821.05,179 Z" fill="#1e1e1e" stroke="#000" stroke-width="0.9" stroke-linejoin="round"/>
<path d="M696.7,38.2 L823.1,38.2 L823.1,179" fill="none" stroke="#666" stroke-width="1.9" stroke-linejoin="round"/>
<line x1="696.7" y1="38.2" x2="696.7" y2="179" stroke="#7a7a7a" stroke-width="1.5"/>
<line x1="694.9" y1="179" x2="696.7" y2="179" stroke="#444" stroke-width="0.9"/>
<line x1="694.9" y1="155.71" x2="696.7" y2="155.71" stroke="#444" stroke-width="0.9"/>
<line x1="694.9" y1="132.43" x2="696.7" y2="132.43" stroke="#444" stroke-width="0.9"/>
<line x1="694.9" y1="109.14" x2="696.7" y2="109.14" stroke="#444" stroke-width="0.9"/>
<line x1="694.9" y1="85.85" x2="696.7" y2="85.85" stroke="#444" stroke-width="0.9"/>
<line x1="694.9" y1="62.57" x2="696.7" y2="62.57" stroke="#444" stroke-width="0.9"/>
<line x1="694.9" y1="39.28" x2="696.7" y2="39.28" stroke="#444" stroke-width="0.9"/>
<line x1="694.2" y1="179" x2="823.1" y2="179" stroke="#333" stroke-width="1.3"/>
<line x1="700.7" y1="179.8" x2="823.1" y2="179.8" stroke="#444" stroke-width="1.6" stroke-dasharray="1 5"/>
<line x1="694.2" y1="179" x2="696.7" y2="179" stroke="#333" stroke-width="1"/>
<text x="693.5" y="181.2" font-size="6.2" fill="#555" text-anchor="end" font-weight="bold" stroke="#555" stroke-width="0.25">0</text>
<line x1="694.2" y1="132.43" x2="696.7" y2="132.43" stroke="#333" stroke-width="1"/>
<text x="693.5" y="134.63" font-size="6.2" fill="#555" text-anchor="end" font-weight="bold" stroke="#555" stroke-width="0.25">20</text>
<line x1="694.2" y1="85.65" x2="696.7" y2="85.65" stroke="#333" stroke-width="1"/>
<text x="693.5" y="87.85" font-size="6.2" fill="#555" text-anchor="end" font-weight="bold" stroke="#555" stroke-width="0.25">40</text>
<line x1="694.2" y1="38.46" x2="696.7" y2="38.46" stroke="#333" stroke-width="1"/>
<text x="693.5" y="40.66" font-size="6.2" fill="#555" text-anchor="end" font-weight="bold" stroke="#555" stroke-width="0.25">60</text>
<line x1="728.3" y1="179" x2="728.3" y2="181.5" stroke="#333" stroke-width="1"/>
<text x="728.6" y="189.6" font-size="6" fill="#555" stroke="#555" stroke-width="0.25" text-anchor="middle" font-weight="bold">10<tspan font-size="4.2" dy="-2.4">1</tspan></text>
<line x1="759.9" y1="179" x2="759.9" y2="181.5" stroke="#333" stroke-width="1"/>
<text x="760.2" y="189.6" font-size="6" fill="#555" stroke="#555" stroke-width="0.25" text-anchor="middle" font-weight="bold">10<tspan font-size="4.2" dy="-2.4">2</tspan></text>
<line x1="791.5" y1="179" x2="791.5" y2="181.5" stroke="#333" stroke-width="1"/>
<text x="791.8" y="189.6" font-size="6" fill="#555" stroke="#555" stroke-width="0.25" text-anchor="middle" font-weight="bold">10<tspan font-size="4.2" dy="-2.4">3</tspan></text>
<line x1="822.47" y1="179" x2="822.47" y2="181.5" stroke="#333" stroke-width="1"/>
<text x="822.77" y="189.6" font-size="6" fill="#555" stroke="#555" stroke-width="0.25" text-anchor="middle" font-weight="bold">10<tspan font-size="4.2" dy="-2.4">4</tspan></text>
<path d="M730.38,347.8 L730.38,347.8 L731.21,344.67 L732.03,339.6 L732.74,340.39 L733.46,342.67 L734.08,343.44 L734.69,342.93 L735.31,340.25 L735.92,340.93 L736.54,340.62 L737.22,341.07 L737.91,341.09 L738.59,339.47 L739.27,338.68 L739.96,338.2 L740.64,338.57 L741.32,339.33 L742.01,337.17 L742.69,337.75 L743.38,336.32 L744.06,336.92 L744.74,336.52 L745.43,335.58 L746.11,331.51 L746.79,330.37 L747.62,328.08 L748.44,324.21 L749.05,323.72 L749.67,324.14 L750.28,323.18 L750.9,322.16 L751.58,320.13 L752.26,320.41 L752.95,318.06 L753.77,305.72 L754.59,293.45 L755.31,279.97 L756.03,268.84 L756.85,264.54 L757.67,262.68 L758.38,271.89 L759.1,281.14 L759.92,293.33 L760.74,305.75 L761.46,293.99 L762.18,283.19 L762.9,263.85 L763.62,246.28 L764.3,234.95 L764.98,223.95 L765.67,213.46 L766.49,225.58 L767.31,236.02 L768.13,255.3 L768.95,277.04 L769.67,292.02 L770.38,305.75 L771.1,297.36 L771.82,287.3 L772.64,274.05 L773.46,262.68 L774.18,259.63 L774.9,254.48 L775.72,268.34 L776.54,281.14 L777.22,295.8 L777.91,307.97 L778.59,322.16 L779.31,323.9 L780.03,326.26 L780.85,312.67 L781.67,299.6 L782.35,297.41 L783.03,292.98 L783.72,289.35 L784.4,295.84 L785.09,302.84 L785.77,309.86 L786.45,317.51 L787.14,325.15 L787.82,334.47 L788.64,335.54 L789.46,338.57 L790.15,332.56 L790.83,324.37 L791.51,318.06 L792.13,315.03 L792.74,309.24 L793.36,305.75 L794.11,309.28 L794.86,313.99 L795.62,318.06 L796.3,322.77 L796.98,328.69 L797.67,334.47 L798.38,336.62 L799.1,336.52 L799.79,334.05 L800.47,330.45 L801.15,326.26 L801.77,323.31 L802.38,320.72 L803,317.5 L803.62,313.26 L804.23,309.86 L804.91,302.88 L805.6,293.71 L806.28,287.3 L806.97,280.35 L807.65,272.13 L808.33,264.74 L809.15,273.56 L809.97,281.14 L810.69,299.96 L811.41,318.06 L812.09,324.37 L812.78,330.62 L813.46,338.57 L814.08,341.06 L814.69,340.52 L815.31,342.81 L815.92,343.93 L816.54,345.75 L817.15,346.16 L817.77,346.57 L818.38,346.98 L819,347.39 L819.62,347.8 Z" fill="#1e1e1e" stroke="#000" stroke-width="0.9" stroke-linejoin="round"/>
<path d="M698.7,206.5 L820.9,206.5 L820.9,347.8" fill="none" stroke="#666" stroke-width="1.9" stroke-linejoin="round"/>
<line x1="698.7" y1="206.5" x2="698.7" y2="347.8" stroke="#7a7a7a" stroke-width="1.5"/>
<rect x="697.2" y="346.85" width="2.2" height="1.9" fill="#555"/>
<rect x="697.2" y="341.23" width="2.2" height="1.9" fill="#555"/>
<rect x="697.2" y="335.61" width="2.2" height="1.9" fill="#555"/>
<rect x="697.2" y="329.99" width="2.2" height="1.9" fill="#555"/>
<rect x="697.2" y="324.37" width="2.2" height="1.9" fill="#555"/>
<rect x="697.2" y="318.75" width="2.2" height="1.9" fill="#555"/>
<rect x="697.2" y="313.13" width="2.2" height="1.9" fill="#555"/>
<rect x="697.2" y="307.51" width="2.2" height="1.9" fill="#555"/>
<rect x="697.2" y="301.89" width="2.2" height="1.9" fill="#555"/>
<rect x="697.2" y="296.27" width="2.2" height="1.9" fill="#555"/>
<rect x="697.2" y="290.65" width="2.2" height="1.9" fill="#555"/>
<rect x="697.2" y="285.03" width="2.2" height="1.9" fill="#555"/>
<rect x="697.2" y="279.41" width="2.2" height="1.9" fill="#555"/>
<rect x="697.2" y="273.79" width="2.2" height="1.9" fill="#555"/>
<rect x="697.2" y="268.17" width="2.2" height="1.9" fill="#555"/>
<rect x="697.2" y="262.55" width="2.2" height="1.9" fill="#555"/>
<rect x="697.2" y="256.93" width="2.2" height="1.9" fill="#555"/>
<rect x="697.2" y="251.32" width="2.2" height="1.9" fill="#555"/>
<rect x="697.2" y="245.7" width="2.2" height="1.9" fill="#555"/>
<rect x="697.2" y="240.08" width="2.2" height="1.9" fill="#555"/>
<rect x="697.2" y="234.46" width="2.2" height="1.9" fill="#555"/>
<rect x="697.2" y="228.84" width="2.2" height="1.9" fill="#555"/>
<rect x="697.2" y="223.22" width="2.2" height="1.9" fill="#555"/>
<rect x="697.2" y="217.6" width="2.2" height="1.9" fill="#555"/>
<rect x="697.2" y="211.98" width="2.2" height="1.9" fill="#555"/>
<line x1="696.2" y1="347.8" x2="820.9" y2="347.8" stroke="#333" stroke-width="1.3"/>
<line x1="702.7" y1="348.6" x2="820.9" y2="348.6" stroke="#444" stroke-width="1.6" stroke-dasharray="1 5"/>
<line x1="696.2" y1="347.8" x2="698.7" y2="347.8" stroke="#333" stroke-width="1"/>
<text x="695.5" y="350" font-size="6.2" fill="#555" text-anchor="end" font-weight="bold" stroke="#555" stroke-width="0.25">0</text>
<line x1="696.2" y1="319.7" x2="698.7" y2="319.7" stroke="#333" stroke-width="1"/>
<text x="695.5" y="321.9" font-size="6.2" fill="#555" text-anchor="end" font-weight="bold" stroke="#555" stroke-width="0.25">10</text>
<line x1="696.2" y1="291.4" x2="698.7" y2="291.4" stroke="#333" stroke-width="1"/>
<text x="695.5" y="293.6" font-size="6.2" fill="#555" text-anchor="end" font-weight="bold" stroke="#555" stroke-width="0.25">20</text>
<line x1="696.2" y1="262.68" x2="698.7" y2="262.68" stroke="#333" stroke-width="1"/>
<text x="695.5" y="264.88" font-size="6.2" fill="#555" text-anchor="end" font-weight="bold" stroke="#555" stroke-width="0.25">30</text>
<line x1="696.2" y1="234.38" x2="698.7" y2="234.38" stroke="#333" stroke-width="1"/>
<text x="695.5" y="236.58" font-size="6.2" fill="#555" text-anchor="end" font-weight="bold" stroke="#555" stroke-width="0.25">40</text>
<line x1="729.25" y1="347.8" x2="729.25" y2="350.3" stroke="#333" stroke-width="1"/>
<text x="729.55" y="358.4" font-size="6" fill="#555" stroke="#555" stroke-width="0.25" text-anchor="middle" font-weight="bold">10<tspan font-size="4.2" dy="-2.4">1</tspan></text>
<line x1="759.8" y1="347.8" x2="759.8" y2="350.3" stroke="#333" stroke-width="1"/>
<text x="760.1" y="358.4" font-size="6" fill="#555" stroke="#555" stroke-width="0.25" text-anchor="middle" font-weight="bold">10<tspan font-size="4.2" dy="-2.4">2</tspan></text>
<line x1="790.35" y1="347.8" x2="790.35" y2="350.3" stroke="#333" stroke-width="1"/>
<text x="790.65" y="358.4" font-size="6" fill="#555" stroke="#555" stroke-width="0.25" text-anchor="middle" font-weight="bold">10<tspan font-size="4.2" dy="-2.4">3</tspan></text>
<line x1="820.29" y1="347.8" x2="820.29" y2="350.3" stroke="#333" stroke-width="1"/>
<text x="820.59" y="358.4" font-size="6" fill="#555" stroke="#555" stroke-width="0.25" text-anchor="middle" font-weight="bold">10<tspan font-size="4.2" dy="-2.4">4</tspan></text>
<path d="M737.56,522.9 L737.56,522.9 L738.59,520.85 L739.27,520.35 L739.96,521.44 L740.64,522.02 L741.32,520.26 L742.01,521.23 L742.69,520.85 L743.31,519.74 L743.92,519.76 L744.54,518.74 L745.15,517.57 L745.77,517.77 L746.38,516.53 L747,516.23 L747.62,517.54 L748.23,516.12 L748.85,515.72 L749.46,514.21 L750.08,515.08 L750.69,514.48 L751.31,512.31 L751.92,511.62 L752.61,510.04 L753.29,509.49 L753.97,509.56 L754.66,506.5 L755.34,505.07 L756.03,503.41 L756.71,498.3 L757.39,494.56 L758.08,491.1 L758.76,485.03 L759.44,480.33 L760.13,474.69 L760.85,473.59 L761.56,470.58 L762.38,477.35 L763.21,482.89 L764.03,484.73 L764.85,487 L765.56,468.32 L766.28,450.06 L767,434.74 L767.72,419.29 L768.54,417.96 L769.36,417.24 L770.18,422.99 L771,429.55 L771.72,446.93 L772.44,466.48 L773.26,467.98 L774.08,470.58 L774.79,463.53 L775.51,454.17 L776.33,435.29 L777.15,418.26 L777.87,423.91 L778.59,429.55 L779.31,448.33 L780.03,466.48 L780.71,475.58 L781.39,482.19 L782.08,491.1 L782.9,488.48 L783.72,487 L784.54,473.04 L785.36,460.32 L785.97,456.32 L786.59,452.67 L787.21,449.04 L788.03,460.93 L788.85,470.58 L789.67,486.83 L790.49,501.36 L791.1,504.33 L791.72,504.28 L792.33,507.51 L793.15,498.15 L793.97,491.1 L794.59,489.05 L795.21,486.94 L795.82,483.34 L796.44,480.84 L797.26,486.18 L798.08,491.1 L798.76,495.34 L799.44,501.77 L800.13,507.51 L800.81,511.3 L801.5,513.79 L802.18,515.72 L802.86,515.23 L803.55,514.15 L804.23,511.62 L804.91,504.16 L805.6,496.98 L806.28,491.1 L806.97,488.88 L807.65,488.42 L808.33,487 L809.15,468.98 L809.97,450.06 L810.69,430.63 L811.41,409.03 L812.03,390.57 L812.74,405.47 L813.46,419.29 L814.28,445.3 L815.1,470.58 L815.82,486.62 L816.54,501.36 L817.22,506.72 L817.91,512.43 L818.59,517.77 L819.21,517.92 L819.82,521.03 L820.44,521.62 L821.05,522.9 Z" fill="#1e1e1e" stroke="#000" stroke-width="0.9" stroke-linejoin="round"/>
<path d="M700.3,383.2 L824.5,383.2 L824.5,522.9" fill="none" stroke="#666" stroke-width="1.9" stroke-linejoin="round"/>
<line x1="700.3" y1="383.2" x2="700.3" y2="522.9" stroke="#7a7a7a" stroke-width="1.5"/>
<rect x="698.8" y="521.95" width="2.2" height="1.9" fill="#555"/>
<rect x="698.8" y="516.33" width="2.2" height="1.9" fill="#555"/>
<rect x="698.8" y="510.71" width="2.2" height="1.9" fill="#555"/>
<rect x="698.8" y="505.09" width="2.2" height="1.9" fill="#555"/>
<rect x="698.8" y="499.46" width="2.2" height="1.9" fill="#555"/>
<rect x="698.8" y="493.84" width="2.2" height="1.9" fill="#555"/>
<rect x="698.8" y="488.22" width="2.2" height="1.9" fill="#555"/>
<rect x="698.8" y="482.6" width="2.2" height="1.9" fill="#555"/>
<rect x="698.8" y="476.98" width="2.2" height="1.9" fill="#555"/>
<rect x="698.8" y="471.36" width="2.2" height="1.9" fill="#555"/>
<rect x="698.8" y="465.73" width="2.2" height="1.9" fill="#555"/>
<rect x="698.8" y="460.11" width="2.2" height="1.9" fill="#555"/>
<rect x="698.8" y="454.49" width="2.2" height="1.9" fill="#555"/>
<rect x="698.8" y="448.87" width="2.2" height="1.9" fill="#555"/>
<rect x="698.8" y="443.25" width="2.2" height="1.9" fill="#555"/>
<rect x="698.8" y="437.63" width="2.2" height="1.9" fill="#555"/>
<rect x="698.8" y="432" width="2.2" height="1.9" fill="#555"/>
<rect x="698.8" y="426.38" width="2.2" height="1.9" fill="#555"/>
<rect x="698.8" y="420.76" width="2.2" height="1.9" fill="#555"/>
<rect x="698.8" y="415.14" width="2.2" height="1.9" fill="#555"/>
<rect x="698.8" y="409.52" width="2.2" height="1.9" fill="#555"/>
<rect x="698.8" y="403.9" width="2.2" height="1.9" fill="#555"/>
<rect x="698.8" y="398.27" width="2.2" height="1.9" fill="#555"/>
<rect x="698.8" y="392.65" width="2.2" height="1.9" fill="#555"/>
<rect x="698.8" y="387.03" width="2.2" height="1.9" fill="#555"/>
<line x1="697.8" y1="522.9" x2="824.5" y2="522.9" stroke="#333" stroke-width="1.3"/>
<line x1="704.3" y1="523.7" x2="824.5" y2="523.7" stroke="#444" stroke-width="1.6" stroke-dasharray="1 5"/>
<line x1="697.8" y1="522.9" x2="700.3" y2="522.9" stroke="#333" stroke-width="1"/>
<text x="697.1" y="525.1" font-size="6.2" fill="#555" text-anchor="end" font-weight="bold" stroke="#555" stroke-width="0.25">0</text>
<line x1="697.8" y1="494.79" x2="700.3" y2="494.79" stroke="#333" stroke-width="1"/>
<text x="697.1" y="496.99" font-size="6.2" fill="#555" text-anchor="end" font-weight="bold" stroke="#555" stroke-width="0.25">10</text>
<line x1="697.8" y1="466.48" x2="700.3" y2="466.48" stroke="#333" stroke-width="1"/>
<text x="697.1" y="468.68" font-size="6.2" fill="#555" text-anchor="end" font-weight="bold" stroke="#555" stroke-width="0.25">20</text>
<line x1="697.8" y1="438.16" x2="700.3" y2="438.16" stroke="#333" stroke-width="1"/>
<text x="697.1" y="440.36" font-size="6.2" fill="#555" text-anchor="end" font-weight="bold" stroke="#555" stroke-width="0.25">30</text>
<line x1="697.8" y1="409.65" x2="700.3" y2="409.65" stroke="#333" stroke-width="1"/>
<text x="697.1" y="411.85" font-size="6.2" fill="#555" text-anchor="end" font-weight="bold" stroke="#555" stroke-width="0.25">40</text>
<line x1="731.35" y1="522.9" x2="731.35" y2="525.4" stroke="#333" stroke-width="1"/>
<text x="731.65" y="533.5" font-size="6" fill="#555" stroke="#555" stroke-width="0.25" text-anchor="middle" font-weight="bold">10<tspan font-size="4.2" dy="-2.4">1</tspan></text>
<line x1="762.4" y1="522.9" x2="762.4" y2="525.4" stroke="#333" stroke-width="1"/>
<text x="762.7" y="533.5" font-size="6" fill="#555" stroke="#555" stroke-width="0.25" text-anchor="middle" font-weight="bold">10<tspan font-size="4.2" dy="-2.4">2</tspan></text>
<line x1="793.45" y1="522.9" x2="793.45" y2="525.4" stroke="#333" stroke-width="1"/>
<text x="793.75" y="533.5" font-size="6" fill="#555" stroke="#555" stroke-width="0.25" text-anchor="middle" font-weight="bold">10<tspan font-size="4.2" dy="-2.4">3</tspan></text>
<line x1="823.88" y1="522.9" x2="823.88" y2="525.4" stroke="#333" stroke-width="1"/>
<text x="824.18" y="533.5" font-size="6" fill="#555" stroke="#555" stroke-width="0.25" text-anchor="middle" font-weight="bold">10<tspan font-size="4.2" dy="-2.4">4</tspan></text>
<path d="M907.69,177.5 L907.69,177.5 L908.38,177.5 L909.06,177.09 L909.74,176.88 L910.43,176.68 L911.11,176.47 L911.79,176.27 L912.48,175.86 L913.16,174.79 L913.85,176.07 L914.53,174.99 L915.21,173.74 L915.9,173.81 L916.51,171.66 L917.13,170.74 L917.74,170.45 L918.36,169.38 L918.97,167.66 L919.66,165.68 L920.34,164.55 L921.03,164.58 L921.64,164.03 L922.26,163.55 L922.87,162.46 L923.49,161.44 L924.1,161.5 L924.72,160.93 L925.33,158.66 L925.95,158.56 L926.56,158.13 L927.18,157.4 L927.9,151.35 L928.62,143.05 L929.44,136.23 L930.26,128.69 L931.08,127.59 L931.9,124.59 L932.62,129.66 L933.33,134.85 L934.05,138.29 L934.77,143.05 L935.59,136.27 L936.41,130.74 L937.23,119.57 L938.05,106.14 L938.77,101 L939.49,94.86 L940.21,97.97 L940.92,102.03 L941.74,109.06 L942.56,118.44 L943.38,129.71 L944.21,141 L944.92,137.33 L945.64,132.79 L946.36,124.39 L947.08,116.39 L947.9,111.69 L948.72,108.19 L949.54,113.72 L950.36,118.44 L951.08,127.69 L951.79,134.85 L952.48,141.01 L953.16,147.37 L953.85,155.35 L954.56,144.7 L955.28,134.85 L955.9,126.45 L956.51,118.44 L957.23,114.79 L957.95,110.24 L958.77,115.65 L959.59,122.54 L960.31,129.42 L961.03,134.85 L961.71,140.9 L962.39,145.79 L963.08,151.25 L963.9,142.32 L964.72,134.85 L965.4,125.06 L966.09,112.51 L966.77,102.03 L967.49,87.44 L968.21,71.27 L968.92,57.79 L969.64,45.64 L970.46,57.77 L971.28,71.27 L972.1,87.29 L972.92,102.03 L973.64,112.81 L974.36,124.59 L975.08,134.93 L975.79,143.05 L976.62,153.29 L977.44,163.56 L978.05,165.25 L978.67,167.8 L979.28,170.73 L979.9,173.81 L980.51,175.86 L981.13,176.19 L981.74,176.52 L982.36,176.84 L982.97,177.17 L983.59,177.5 Z" fill="#1e1e1e" stroke="#000" stroke-width="0.9" stroke-linejoin="round"/>
<path d="M865.2,38.2 L989.9,38.2 L989.9,177.5" fill="none" stroke="#666" stroke-width="1.9" stroke-linejoin="round"/>
<line x1="865.2" y1="38.2" x2="865.2" y2="177.5" stroke="#7a7a7a" stroke-width="1.5"/>
<line x1="863.4" y1="177.5" x2="865.2" y2="177.5" stroke="#444" stroke-width="0.9"/>
<line x1="863.4" y1="154.63" x2="865.2" y2="154.63" stroke="#444" stroke-width="0.9"/>
<line x1="863.4" y1="131.77" x2="865.2" y2="131.77" stroke="#444" stroke-width="0.9"/>
<line x1="863.4" y1="108.9" x2="865.2" y2="108.9" stroke="#444" stroke-width="0.9"/>
<line x1="863.4" y1="86.04" x2="865.2" y2="86.04" stroke="#444" stroke-width="0.9"/>
<line x1="863.4" y1="63.17" x2="865.2" y2="63.17" stroke="#444" stroke-width="0.9"/>
<line x1="863.4" y1="40.31" x2="865.2" y2="40.31" stroke="#444" stroke-width="0.9"/>
<line x1="862.7" y1="177.5" x2="989.9" y2="177.5" stroke="#333" stroke-width="1.3"/>
<line x1="869.2" y1="178.3" x2="989.9" y2="178.3" stroke="#444" stroke-width="1.6" stroke-dasharray="1 5"/>
<line x1="862.7" y1="177.5" x2="865.2" y2="177.5" stroke="#333" stroke-width="1"/>
<text x="862" y="179.7" font-size="6.2" fill="#555" text-anchor="end" font-weight="bold" stroke="#555" stroke-width="0.25">0</text>
<line x1="862.7" y1="131.77" x2="865.2" y2="131.77" stroke="#333" stroke-width="1"/>
<text x="862" y="133.97" font-size="6.2" fill="#555" text-anchor="end" font-weight="bold" stroke="#555" stroke-width="0.25">20</text>
<line x1="862.7" y1="86.24" x2="865.2" y2="86.24" stroke="#333" stroke-width="1"/>
<text x="862" y="88.44" font-size="6.2" fill="#555" text-anchor="end" font-weight="bold" stroke="#555" stroke-width="0.25">40</text>
<line x1="862.7" y1="40.51" x2="865.2" y2="40.51" stroke="#333" stroke-width="1"/>
<text x="862" y="42.71" font-size="6.2" fill="#555" text-anchor="end" font-weight="bold" stroke="#555" stroke-width="0.25">60</text>
<line x1="896.38" y1="177.5" x2="896.38" y2="180" stroke="#333" stroke-width="1"/>
<text x="896.67" y="188.1" font-size="6" fill="#555" stroke="#555" stroke-width="0.25" text-anchor="middle" font-weight="bold">10<tspan font-size="4.2" dy="-2.4">1</tspan></text>
<line x1="927.55" y1="177.5" x2="927.55" y2="180" stroke="#333" stroke-width="1"/>
<text x="927.85" y="188.1" font-size="6" fill="#555" stroke="#555" stroke-width="0.25" text-anchor="middle" font-weight="bold">10<tspan font-size="4.2" dy="-2.4">2</tspan></text>
<line x1="958.73" y1="177.5" x2="958.73" y2="180" stroke="#333" stroke-width="1"/>
<text x="959.02" y="188.1" font-size="6" fill="#555" stroke="#555" stroke-width="0.25" text-anchor="middle" font-weight="bold">10<tspan font-size="4.2" dy="-2.4">3</tspan></text>
<line x1="989.28" y1="177.5" x2="989.28" y2="180" stroke="#333" stroke-width="1"/>
<text x="989.58" y="188.1" font-size="6" fill="#555" stroke="#555" stroke-width="0.25" text-anchor="middle" font-weight="bold">10<tspan font-size="4.2" dy="-2.4">4</tspan></text>
<path d="M913.85,348.4 L913.85,348.4 L914.53,348.4 L915.21,347.99 L915.9,347.78 L916.58,347.58 L917.26,347.37 L917.95,347.17 L918.63,346.76 L919.32,347.45 L920,345.07 L920.68,345.27 L921.37,344.41 L922.05,344.71 L922.67,345.06 L923.28,342.19 L923.9,341.14 L924.51,340.34 L925.13,340.61 L925.74,339.52 L926.36,339.95 L926.97,339.09 L927.59,337.9 L928.21,336.51 L928.89,337.05 L929.57,336.2 L930.26,334.45 L930.94,331.98 L931.62,329.58 L932.31,328.3 L932.99,326.64 L933.68,323.44 L934.36,320.1 L935.18,316.9 L936,316 L936.68,317.09 L937.37,317.07 L938.05,318.05 L938.74,320.47 L939.42,323.1 L940.1,326.25 L940.82,327.49 L941.54,330.35 L942.22,326.4 L942.91,324.34 L943.59,322.15 L944.31,319.22 L945.03,317.02 L945.85,317.12 L946.67,314.97 L947.49,317.64 L948.31,322.15 L948.99,326.71 L949.68,328.27 L950.36,332.4 L951.04,333.42 L951.73,335.93 L952.41,336.51 L953.13,330.12 L953.85,322.15 L954.56,320.45 L955.28,319.07 L956.1,319.5 L956.92,322.15 L957.74,326.19 L958.56,330.35 L959.25,331.41 L959.93,334.12 L960.62,334.45 L961.3,332.33 L961.98,331.39 L962.67,330.35 L963.38,327.23 L964.1,322.15 L964.82,316.38 L965.54,312.92 L966.36,313.22 L967.18,313.95 L968,320.87 L968.82,326.25 L969.54,322.81 L970.26,318.05 L970.94,303.25 L971.62,289.56 L972.31,277.03 L972.99,262.29 L973.68,250.72 L974.36,236.02 L975.08,226.19 L975.79,217.56 L976.62,227.4 L977.44,236.02 L978.26,257.51 L979.08,277.03 L979.79,297.15 L980.51,318.05 L981.23,327.74 L981.95,338.56 L982.62,341.73 L983.28,342.95 L983.95,344.12 L984.62,346.76 L985.23,347.09 L985.85,347.42 L986.46,347.74 L987.08,348.07 L987.69,348.4 Z" fill="#1e1e1e" stroke="#000" stroke-width="0.9" stroke-linejoin="round"/>
<path d="M867.3,209 L990.9,209 L990.9,348.4" fill="none" stroke="#666" stroke-width="1.9" stroke-linejoin="round"/>
<line x1="867.3" y1="209" x2="867.3" y2="348.4" stroke="#7a7a7a" stroke-width="1.5"/>
<line x1="865.5" y1="348.4" x2="867.3" y2="348.4" stroke="#444" stroke-width="0.9"/>
<line x1="865.5" y1="332.2" x2="867.3" y2="332.2" stroke="#444" stroke-width="0.9"/>
<line x1="865.5" y1="316" x2="867.3" y2="316" stroke="#444" stroke-width="0.9"/>
<line x1="865.5" y1="299.8" x2="867.3" y2="299.8" stroke="#444" stroke-width="0.9"/>
<line x1="865.5" y1="283.6" x2="867.3" y2="283.6" stroke="#444" stroke-width="0.9"/>
<line x1="865.5" y1="267.4" x2="867.3" y2="267.4" stroke="#444" stroke-width="0.9"/>
<line x1="865.5" y1="251.19" x2="867.3" y2="251.19" stroke="#444" stroke-width="0.9"/>
<line x1="865.5" y1="234.99" x2="867.3" y2="234.99" stroke="#444" stroke-width="0.9"/>
<line x1="865.5" y1="218.79" x2="867.3" y2="218.79" stroke="#444" stroke-width="0.9"/>
<line x1="864.8" y1="348.4" x2="990.9" y2="348.4" stroke="#333" stroke-width="1.3"/>
<line x1="871.3" y1="349.2" x2="990.9" y2="349.2" stroke="#444" stroke-width="1.6" stroke-dasharray="1 5"/>
<line x1="864.8" y1="348.4" x2="867.3" y2="348.4" stroke="#333" stroke-width="1"/>
<text x="864.1" y="350.6" font-size="6.2" fill="#555" text-anchor="end" font-weight="bold" stroke="#555" stroke-width="0.25">0</text>
<line x1="864.8" y1="316" x2="867.3" y2="316" stroke="#333" stroke-width="1"/>
<text x="864.1" y="318.2" font-size="6.2" fill="#555" text-anchor="end" font-weight="bold" stroke="#555" stroke-width="0.25">20</text>
<line x1="864.8" y1="283.6" x2="867.3" y2="283.6" stroke="#333" stroke-width="1"/>
<text x="864.1" y="285.8" font-size="6.2" fill="#555" text-anchor="end" font-weight="bold" stroke="#555" stroke-width="0.25">40</text>
<line x1="864.8" y1="251.4" x2="867.3" y2="251.4" stroke="#333" stroke-width="1"/>
<text x="864.1" y="253.6" font-size="6.2" fill="#555" text-anchor="end" font-weight="bold" stroke="#555" stroke-width="0.25">60</text>
<line x1="864.8" y1="218.59" x2="867.3" y2="218.59" stroke="#333" stroke-width="1"/>
<text x="864.1" y="220.79" font-size="6.2" fill="#555" text-anchor="end" font-weight="bold" stroke="#555" stroke-width="0.25">80</text>
<line x1="898.2" y1="348.4" x2="898.2" y2="350.9" stroke="#333" stroke-width="1"/>
<text x="898.5" y="359" font-size="6" fill="#555" stroke="#555" stroke-width="0.25" text-anchor="middle" font-weight="bold">10<tspan font-size="4.2" dy="-2.4">1</tspan></text>
<line x1="929.1" y1="348.4" x2="929.1" y2="350.9" stroke="#333" stroke-width="1"/>
<text x="929.4" y="359" font-size="6" fill="#555" stroke="#555" stroke-width="0.25" text-anchor="middle" font-weight="bold">10<tspan font-size="4.2" dy="-2.4">2</tspan></text>
<line x1="960" y1="348.4" x2="960" y2="350.9" stroke="#333" stroke-width="1"/>
<text x="960.3" y="359" font-size="6" fill="#555" stroke="#555" stroke-width="0.25" text-anchor="middle" font-weight="bold">10<tspan font-size="4.2" dy="-2.4">3</tspan></text>
<line x1="990.28" y1="348.4" x2="990.28" y2="350.9" stroke="#333" stroke-width="1"/>
<text x="990.58" y="359" font-size="6" fill="#555" stroke="#555" stroke-width="0.25" text-anchor="middle" font-weight="bold">10<tspan font-size="4.2" dy="-2.4">4</tspan></text>
<path d="M898.46,520.8 L898.46,520.8 L899.49,514.65 L900.17,515.52 L900.85,514.88 L901.54,515.67 L902.22,516.15 L902.91,516.5 L903.59,518.75 L904.27,517.33 L904.96,515.67 L905.64,512.6 L906.32,513.95 L907.01,515.74 L907.69,515.67 L908.31,513.68 L908.92,513.38 L909.54,513.15 L910.15,513.52 L910.77,511.57 L911.38,511.87 L912,509.65 L912.62,508.5 L913.23,508.12 L913.85,507.47 L914.46,506.63 L915.08,506.88 L915.69,504.23 L916.31,504.93 L916.92,503.37 L917.61,499.85 L918.29,495.96 L918.97,491.06 L919.66,489 L920.34,485.86 L921.03,482.86 L921.71,480.38 L922.39,478.31 L923.08,476.7 L923.69,475.95 L924.31,476.58 L924.92,474.44 L925.54,474.32 L926.15,474.65 L926.77,472.71 L927.38,468.9 L928,465.89 L928.62,464.4 L929.44,458.12 L930.26,454.14 L931.08,457.35 L931.9,460.3 L932.58,462.6 L933.26,466.95 L933.95,468.5 L934.63,471.49 L935.32,473.8 L936,474.65 L936.72,478.18 L937.44,482.86 L938.15,474.65 L938.87,468.5 L939.69,463.4 L940.51,460.3 L941.33,467.47 L942.15,474.65 L942.87,482.35 L943.59,489.01 L944.31,494.01 L945.03,499.26 L945.85,494.51 L946.67,491.06 L947.49,485.73 L948.31,480.81 L948.99,483.84 L949.68,486.7 L950.36,489.01 L951.04,493.04 L951.73,496.7 L952.41,499.26 L953.09,501.72 L953.78,502.43 L954.46,505.42 L955.15,501.47 L955.83,495.34 L956.51,491.06 L957.23,482 L957.95,472.6 L958.63,475.71 L959.32,480.02 L960,482.86 L960.68,484.17 L961.37,486.34 L962.05,489.01 L962.74,490.43 L963.42,492.26 L964.1,495.16 L964.82,494.06 L965.54,491.06 L966.36,470.74 L967.18,450.04 L967.86,439.36 L968.55,429.28 L969.23,419.28 L969.91,412.97 L970.6,404.25 L971.28,396.72 L972.31,388.51 L973.03,398.11 L973.74,409.02 L974.56,430.29 L975.38,450.04 L976.21,470.93 L977.03,491.06 L977.71,500.47 L978.39,506.49 L979.08,515.67 L979.69,516.64 L980.31,518.51 L980.92,519.59 L981.54,519.77 L982.22,519.95 L982.91,520.12 L983.59,520.29 L984.27,520.46 L984.96,520.8 L985.64,520.8 Z" fill="#1e1e1e" stroke="#000" stroke-width="0.9" stroke-linejoin="round"/>
<path d="M867.3,382 L990.3,382 L990.3,520.8" fill="none" stroke="#666" stroke-width="1.9" stroke-linejoin="round"/>
<line x1="867.3" y1="382" x2="867.3" y2="520.8" stroke="#7a7a7a" stroke-width="1.5"/>
<line x1="865.5" y1="520.8" x2="867.3" y2="520.8" stroke="#444" stroke-width="0.9"/>
<line x1="865.5" y1="500.29" x2="867.3" y2="500.29" stroke="#444" stroke-width="0.9"/>
<line x1="865.5" y1="479.78" x2="867.3" y2="479.78" stroke="#444" stroke-width="0.9"/>
<line x1="865.5" y1="459.27" x2="867.3" y2="459.27" stroke="#444" stroke-width="0.9"/>
<line x1="865.5" y1="438.76" x2="867.3" y2="438.76" stroke="#444" stroke-width="0.9"/>
<line x1="865.5" y1="418.25" x2="867.3" y2="418.25" stroke="#444" stroke-width="0.9"/>
<line x1="865.5" y1="397.74" x2="867.3" y2="397.74" stroke="#444" stroke-width="0.9"/>
<line x1="864.8" y1="520.8" x2="990.3" y2="520.8" stroke="#333" stroke-width="1.3"/>
<line x1="871.3" y1="521.6" x2="990.3" y2="521.6" stroke="#444" stroke-width="1.6" stroke-dasharray="1 5"/>
<line x1="864.8" y1="520.8" x2="867.3" y2="520.8" stroke="#333" stroke-width="1"/>
<text x="864.1" y="523" font-size="6.2" fill="#555" text-anchor="end" font-weight="bold" stroke="#555" stroke-width="0.25">0</text>
<line x1="864.8" y1="479.78" x2="867.3" y2="479.78" stroke="#333" stroke-width="1"/>
<text x="864.1" y="481.98" font-size="6.2" fill="#555" text-anchor="end" font-weight="bold" stroke="#555" stroke-width="0.25">20</text>
<line x1="864.8" y1="437.12" x2="867.3" y2="437.12" stroke="#333" stroke-width="1"/>
<text x="864.1" y="439.32" font-size="6.2" fill="#555" text-anchor="end" font-weight="bold" stroke="#555" stroke-width="0.25">40</text>
<line x1="864.8" y1="394.66" x2="867.3" y2="394.66" stroke="#333" stroke-width="1"/>
<text x="864.1" y="396.86" font-size="6.2" fill="#555" text-anchor="end" font-weight="bold" stroke="#555" stroke-width="0.25">60</text>
<line x1="898.05" y1="520.8" x2="898.05" y2="523.3" stroke="#333" stroke-width="1"/>
<text x="898.35" y="531.4" font-size="6" fill="#555" stroke="#555" stroke-width="0.25" text-anchor="middle" font-weight="bold">10<tspan font-size="4.2" dy="-2.4">1</tspan></text>
<line x1="928.8" y1="520.8" x2="928.8" y2="523.3" stroke="#333" stroke-width="1"/>
<text x="929.1" y="531.4" font-size="6" fill="#555" stroke="#555" stroke-width="0.25" text-anchor="middle" font-weight="bold">10<tspan font-size="4.2" dy="-2.4">2</tspan></text>
<line x1="959.55" y1="520.8" x2="959.55" y2="523.3" stroke="#333" stroke-width="1"/>
<text x="959.85" y="531.4" font-size="6" fill="#555" stroke="#555" stroke-width="0.25" text-anchor="middle" font-weight="bold">10<tspan font-size="4.2" dy="-2.4">3</tspan></text>
<line x1="989.68" y1="520.8" x2="989.68" y2="523.3" stroke="#333" stroke-width="1"/>
<text x="989.98" y="531.4" font-size="6" fill="#555" stroke="#555" stroke-width="0.25" text-anchor="middle" font-weight="bold">10<tspan font-size="4.2" dy="-2.4">4</tspan></text>
<text x="153.96" y="22.4" font-size="21" font-weight="bold" textLength="28.75" lengthAdjust="spacingAndGlyphs" stroke="#000" stroke-width="0.45">M1</text>
<text x="188.79" y="22.4" font-size="19" font-weight="bold" textLength="10.41" lengthAdjust="spacingAndGlyphs" stroke="#000" stroke-width="0.45">+</text>
<text x="206.02" y="22.4" font-size="21" font-weight="bold" textLength="33.87" lengthAdjust="spacingAndGlyphs" stroke="#000" stroke-width="0.45">CD4</text>
<text x="241.46" y="14.8" font-size="12" font-weight="bold" textLength="6.36" lengthAdjust="spacingAndGlyphs" stroke="#000" stroke-width="0.45">+</text>
<text x="252.53" y="22.4" font-size="21" font-weight="bold" textLength="10.25" lengthAdjust="spacingAndGlyphs" stroke="#000" stroke-width="0.45">T</text>
<text x="267.58" y="22.4" font-size="19.6" font-weight="bold" textLength="34.53" lengthAdjust="spacingAndGlyphs" stroke="#000" stroke-width="0.45">cells</text>
<text x="332.44" y="22.4" font-size="21" font-weight="bold" textLength="29.08" lengthAdjust="spacingAndGlyphs" stroke="#000" stroke-width="0.45">M2</text>
<text x="367.27" y="22.4" font-size="19" font-weight="bold" textLength="10.64" lengthAdjust="spacingAndGlyphs" stroke="#000" stroke-width="0.45">+</text>
<text x="383.52" y="22.4" font-size="21" font-weight="bold" textLength="34.08" lengthAdjust="spacingAndGlyphs" stroke="#000" stroke-width="0.45">CD4</text>
<text x="418.34" y="14.8" font-size="12" font-weight="bold" textLength="6.71" lengthAdjust="spacingAndGlyphs" stroke="#000" stroke-width="0.45">+</text>
<text x="430.34" y="22.4" font-size="21" font-weight="bold" textLength="9.84" lengthAdjust="spacingAndGlyphs" stroke="#000" stroke-width="0.45">T</text>
<text x="446.39" y="22.4" font-size="19.6" font-weight="bold" textLength="34.11" lengthAdjust="spacingAndGlyphs" stroke="#000" stroke-width="0.45">cells</text>
<text x="678.44" y="22.1" font-size="21" font-weight="bold" textLength="29.07" lengthAdjust="spacingAndGlyphs" stroke="#000" stroke-width="0.45">M1</text>
<text x="713.65" y="22.1" font-size="19" font-weight="bold" textLength="10.99" lengthAdjust="spacingAndGlyphs" stroke="#000" stroke-width="0.45">+</text>
<text x="731.71" y="22.1" font-size="21" font-weight="bold" textLength="34.41" lengthAdjust="spacingAndGlyphs" stroke="#000" stroke-width="0.45">CD8</text>
<text x="766.97" y="14.5" font-size="12" font-weight="bold" textLength="6.24" lengthAdjust="spacingAndGlyphs" stroke="#000" stroke-width="0.45">+</text>
<text x="777.33" y="22.1" font-size="21" font-weight="bold" textLength="10.66" lengthAdjust="spacingAndGlyphs" stroke="#000" stroke-width="0.45">T</text>
<text x="793.78" y="22.1" font-size="19.6" font-weight="bold" textLength="34.53" lengthAdjust="spacingAndGlyphs" stroke="#000" stroke-width="0.45">cells</text>
<text x="854.54" y="22.1" font-size="21" font-weight="bold" textLength="29.08" lengthAdjust="spacingAndGlyphs" stroke="#000" stroke-width="0.45">M2</text>
<text x="888.73" y="22.1" font-size="19" font-weight="bold" textLength="9.71" lengthAdjust="spacingAndGlyphs" stroke="#000" stroke-width="0.45">+</text>
<text x="904.9" y="22.1" font-size="21" font-weight="bold" textLength="35.14" lengthAdjust="spacingAndGlyphs" stroke="#000" stroke-width="0.45">CD8</text>
<text x="940.5" y="14.5" font-size="12" font-weight="bold" textLength="5.78" lengthAdjust="spacingAndGlyphs" stroke="#000" stroke-width="0.45">+</text>
<text x="951.63" y="22.1" font-size="21" font-weight="bold" textLength="10.25" lengthAdjust="spacingAndGlyphs" stroke="#000" stroke-width="0.45">T</text>
<text x="968.49" y="22.1" font-size="19.6" font-weight="bold" textLength="34.01" lengthAdjust="spacingAndGlyphs" stroke="#000" stroke-width="0.45">cells</text>
<text x="81.4" y="17.9" font-size="19" font-weight="bold">A</text>
<text x="579.2" y="17.8" font-size="19" font-weight="bold">B</text>
<text x="82.2" y="604.2" font-size="19" font-weight="bold">C</text>
<text x="579" y="604.6" font-size="19" font-weight="bold">D</text>
<text x="73.3" y="102.9" font-size="23.5" font-weight="bold" textLength="71.41" lengthAdjust="spacingAndGlyphs" stroke="#000" stroke-width="0.6">Control</text>
<text x="73.53" y="288" font-size="23.5" font-weight="bold" textLength="73.17" lengthAdjust="spacingAndGlyphs" stroke="#000" stroke-width="0.6">DXM(+)</text>
<text x="73.21" y="474.6" font-size="23.5" font-weight="bold" textLength="77.23" lengthAdjust="spacingAndGlyphs" stroke="#000" stroke-width="0.6">ATRA(+)</text>
<text x="593.3" y="102.9" font-size="23.5" font-weight="bold" textLength="71.41" lengthAdjust="spacingAndGlyphs" stroke="#000" stroke-width="0.6">Control</text>
<text x="593.53" y="288" font-size="23.5" font-weight="bold" textLength="73.17" lengthAdjust="spacingAndGlyphs" stroke="#000" stroke-width="0.6">DXM(+)</text>
<text x="593.21" y="474.6" font-size="23.5" font-weight="bold" textLength="77.23" lengthAdjust="spacingAndGlyphs" stroke="#000" stroke-width="0.6">ATRA(+)</text>
<line x1="161" y1="557.6" x2="460" y2="552.77" stroke="#3a3a3a" stroke-width="1.9"/>
<path d="M469.8,552.6 L459.09,558.37 L458.91,547.18 Z" fill="#000"/>
<line x1="696.5" y1="554" x2="995.7" y2="549.75" stroke="#3a3a3a" stroke-width="1.9"/>
<path d="M1005.5,549.6 L994.78,555.35 L994.62,544.15 Z" fill="#000"/>
<text x="279.77" y="589.3" font-size="25.8" font-weight="normal" textLength="13.41" lengthAdjust="spacingAndGlyphs" stroke="#000" stroke-width="0.9">C</text>
<text x="300.33" y="589.3" font-size="25.8" font-weight="normal" textLength="10.47" lengthAdjust="spacingAndGlyphs" stroke="#000" stroke-width="0.9">F</text>
<text x="317.86" y="589.3" font-size="25.8" font-weight="normal" textLength="11.02" lengthAdjust="spacingAndGlyphs" stroke="#000" stroke-width="0.9">S</text>
<text x="337.21" y="589.3" font-size="25.8" font-weight="normal" textLength="10.77" lengthAdjust="spacingAndGlyphs" stroke="#000" stroke-width="0.9">E</text>
<text x="814.77" y="585.5" font-size="25.8" font-weight="normal" textLength="13.41" lengthAdjust="spacingAndGlyphs" stroke="#000" stroke-width="0.9">C</text>
<text x="835.33" y="585.5" font-size="25.8" font-weight="normal" textLength="10.47" lengthAdjust="spacingAndGlyphs" stroke="#000" stroke-width="0.9">F</text>
<text x="852.83" y="585.5" font-size="25.8" font-weight="normal" textLength="11.48" lengthAdjust="spacingAndGlyphs" stroke="#000" stroke-width="0.9">S</text>
<text x="872.21" y="585.5" font-size="25.8" font-weight="normal" textLength="10.77" lengthAdjust="spacingAndGlyphs" stroke="#000" stroke-width="0.9">E</text>
<defs>
<pattern id="pA" patternUnits="userSpaceOnUse" width="7.2" height="20" patternTransform="skewX(30)"><rect width="7.2" height="20" fill="#000"/><rect x="0" width="3.7" height="20" fill="#fff"/></pattern>
<pattern id="pB" patternUnits="userSpaceOnUse" width="7.2" height="20" patternTransform="skewX(-30)"><rect width="7.2" height="20" fill="#000"/><rect x="0" width="3.7" height="20" fill="#fff"/></pattern>
<pattern id="pC" patternUnits="userSpaceOnUse" width="7.2" height="20"><rect width="7.2" height="20" fill="#000"/><rect x="0.2" width="4.1" height="20" fill="#fff"/></pattern>
<pattern id="pE" patternUnits="userSpaceOnUse" width="14" height="20"><rect width="14" height="20" fill="#000"/><rect x="0.8" width="6.6" height="20" fill="#fff"/></pattern>
<pattern id="pF" patternUnits="userSpaceOnUse" width="7.1" height="7.6"><rect width="7.1" height="7.6" fill="#000"/><rect x="4.0" y="2.25" width="2.9" height="3.1" rx="0.5" fill="#fff"/><rect x="0.5" y="0.5" width="2.5" height="1.5" rx="0.6" fill="#aaa"/><rect x="0.5" y="5.6" width="2.5" height="1.6" rx="0.6" fill="#bbb"/></pattern>
</defs>
<line x1="223" y1="623" x2="223" y2="829.7" stroke="#000" stroke-width="2.3"/>
<line x1="222" y1="823.5" x2="491.3" y2="823.5" stroke="#000" stroke-width="2.6"/>
<line x1="222.7" y1="823.5" x2="222.7" y2="829.7" stroke="#000" stroke-width="2.3"/>
<text x="222.7" y="846.5" font-size="14" font-weight="bold" text-anchor="middle" textLength="18.4" lengthAdjust="spacingAndGlyphs" stroke="#000" stroke-width="0.55">0.0</text>
<line x1="289.6" y1="823.5" x2="289.6" y2="829.7" stroke="#000" stroke-width="2.3"/>
<text x="289.6" y="846.5" font-size="14" font-weight="bold" text-anchor="middle" textLength="18.4" lengthAdjust="spacingAndGlyphs" stroke="#000" stroke-width="0.55">0.5</text>
<line x1="356.4" y1="823.5" x2="356.4" y2="829.7" stroke="#000" stroke-width="2.3"/>
<text x="356.4" y="846.5" font-size="14" font-weight="bold" text-anchor="middle" textLength="18.4" lengthAdjust="spacingAndGlyphs" stroke="#000" stroke-width="0.55">1.0</text>
<line x1="423.3" y1="823.5" x2="423.3" y2="829.7" stroke="#000" stroke-width="2.3"/>
<text x="423.3" y="846.5" font-size="14" font-weight="bold" text-anchor="middle" textLength="18.4" lengthAdjust="spacingAndGlyphs" stroke="#000" stroke-width="0.55">1.5</text>
<line x1="490.1" y1="823.5" x2="490.1" y2="829.7" stroke="#000" stroke-width="2.3"/>
<text x="490.1" y="846.5" font-size="14" font-weight="bold" text-anchor="middle" textLength="18.4" lengthAdjust="spacingAndGlyphs" stroke="#000" stroke-width="0.55">2.0</text>
<text x="281.8" y="877.5" font-size="25.5" font-weight="bold" textLength="145.9" lengthAdjust="spacingAndGlyphs" stroke="#000" stroke-width="0.7">Division index</text>
<line x1="217.4" y1="633.4" x2="223" y2="633.4" stroke="#000" stroke-width="2"/>
<text x="16.3" y="636.9" font-size="14" font-weight="bold" textLength="137.7" lengthAdjust="spacingAndGlyphs" stroke="#000" stroke-width="0.42">ATRA-M2 (Ctr) + CD4</text>
<text x="155.2" y="631.9" font-size="10" font-weight="bold" textLength="5" lengthAdjust="spacingAndGlyphs" stroke="#000" stroke-width="0.55">+</text>
<text x="164.5" y="636.9" font-size="14" font-weight="bold" textLength="7.6" lengthAdjust="spacingAndGlyphs" stroke="#000" stroke-width="0.42">T</text>
<text x="176.1" y="636.9" font-size="14.5" font-weight="normal" stroke="#000" stroke-width="0.45" textLength="34.6" lengthAdjust="spacingAndGlyphs">cells</text>
<rect x="223" y="626.7" width="92.3" height="13.4" fill="#000"/>
<rect transform="translate(225.2,629.5)" width="87.7" height="7.8" fill="url(#pA)"/>
<line x1="315.3" y1="633.4" x2="321.3" y2="633.4" stroke="#000" stroke-width="2.2"/>
<line x1="321" y1="629.3" x2="321" y2="637.5" stroke="#000" stroke-width="2.5"/>
<line x1="217.4" y1="649.1" x2="223" y2="649.1" stroke="#000" stroke-width="2"/>
<text x="0.9" y="652.6" font-size="14" font-weight="bold" textLength="153.1" lengthAdjust="spacingAndGlyphs" stroke="#000" stroke-width="0.42">HD-DXM-M2 (Ctr) + CD4</text>
<text x="155.2" y="647.6" font-size="10" font-weight="bold" textLength="5" lengthAdjust="spacingAndGlyphs" stroke="#000" stroke-width="0.55">+</text>
<text x="164.5" y="652.6" font-size="14" font-weight="bold" textLength="7.6" lengthAdjust="spacingAndGlyphs" stroke="#000" stroke-width="0.42">T</text>
<text x="176.1" y="652.6" font-size="14.5" font-weight="normal" stroke="#000" stroke-width="0.45" textLength="34.6" lengthAdjust="spacingAndGlyphs">cells</text>
<rect x="223" y="642.4" width="86.2" height="13.4" fill="#000"/>
<rect transform="translate(225.2,645.2)" width="81.6" height="7.8" fill="url(#pB)"/>
<line x1="309.2" y1="649.1" x2="314.3" y2="649.1" stroke="#000" stroke-width="2.2"/>
<line x1="314" y1="645" x2="314" y2="653.2" stroke="#000" stroke-width="2.5"/>
<line x1="217.4" y1="664.9" x2="223" y2="664.9" stroke="#000" stroke-width="2"/>
<text x="59" y="668.4" font-size="14" font-weight="bold" textLength="95" lengthAdjust="spacingAndGlyphs" stroke="#000" stroke-width="0.42">M2 (Ctr) + CD4</text>
<text x="155.2" y="663.4" font-size="10" font-weight="bold" textLength="5" lengthAdjust="spacingAndGlyphs" stroke="#000" stroke-width="0.55">+</text>
<text x="164.5" y="668.4" font-size="14" font-weight="bold" textLength="7.6" lengthAdjust="spacingAndGlyphs" stroke="#000" stroke-width="0.42">T</text>
<text x="176.1" y="668.4" font-size="14.5" font-weight="normal" stroke="#000" stroke-width="0.45" textLength="34.6" lengthAdjust="spacingAndGlyphs">cells</text>
<rect x="223" y="658.2" width="130.4" height="13.4" fill="#000"/>
<rect transform="translate(225.2,661.4)" width="125.8" height="7" fill="url(#pC)"/>
<line x1="353.4" y1="664.9" x2="360.4" y2="664.9" stroke="#000" stroke-width="2.2"/>
<line x1="360.1" y1="660.8" x2="360.1" y2="669" stroke="#000" stroke-width="2.5"/>
<line x1="217.4" y1="680.6" x2="223" y2="680.6" stroke="#000" stroke-width="2"/>
<text x="17.1" y="684.1" font-size="14" font-weight="bold" textLength="136.9" lengthAdjust="spacingAndGlyphs" stroke="#000" stroke-width="0.42">ATRA-M1 (Ctr) + CD4</text>
<text x="155.2" y="679.1" font-size="10" font-weight="bold" textLength="5" lengthAdjust="spacingAndGlyphs" stroke="#000" stroke-width="0.55">+</text>
<text x="164.5" y="684.1" font-size="14" font-weight="bold" textLength="7.6" lengthAdjust="spacingAndGlyphs" stroke="#000" stroke-width="0.42">T</text>
<text x="176.1" y="684.1" font-size="14.5" font-weight="normal" stroke="#000" stroke-width="0.45" textLength="34.6" lengthAdjust="spacingAndGlyphs">cells</text>
<rect x="223" y="673.9" width="164.4" height="13.4" fill="#000"/>
<rect x="225.2" y="678" width="159.8" height="2.2" fill="#fff"/>
<rect x="225.2" y="683.1" width="159.8" height="1.8" fill="#fff"/>
<line x1="387.4" y1="680.6" x2="395.5" y2="680.6" stroke="#000" stroke-width="2.2"/>
<line x1="395.2" y1="676.5" x2="395.2" y2="684.7" stroke="#000" stroke-width="2.5"/>
<line x1="217.4" y1="696.6" x2="223" y2="696.6" stroke="#000" stroke-width="2"/>
<text x="2.3" y="700.1" font-size="14" font-weight="bold" textLength="151.7" lengthAdjust="spacingAndGlyphs" stroke="#000" stroke-width="0.42">HD-DXM-M1 (Ctr) + CD4</text>
<text x="155.2" y="695.1" font-size="10" font-weight="bold" textLength="5" lengthAdjust="spacingAndGlyphs" stroke="#000" stroke-width="0.55">+</text>
<text x="164.5" y="700.1" font-size="14" font-weight="bold" textLength="7.6" lengthAdjust="spacingAndGlyphs" stroke="#000" stroke-width="0.42">T</text>
<text x="176.1" y="700.1" font-size="14.5" font-weight="normal" stroke="#000" stroke-width="0.45" textLength="34.6" lengthAdjust="spacingAndGlyphs">cells</text>
<rect x="223" y="689.9" width="149.8" height="13.4" fill="#000"/>
<rect transform="translate(225.2,694.9)" width="145.2" height="5.5" fill="url(#pE)"/>
<line x1="372.8" y1="696.6" x2="380.8" y2="696.6" stroke="#000" stroke-width="2.2"/>
<line x1="380.5" y1="692.5" x2="380.5" y2="700.7" stroke="#000" stroke-width="2.5"/>
<line x1="217.4" y1="712.6" x2="223" y2="712.6" stroke="#000" stroke-width="2"/>
<text x="59.9" y="716.1" font-size="14" font-weight="bold" textLength="94.1" lengthAdjust="spacingAndGlyphs" stroke="#000" stroke-width="0.42">M1 (Ctr) + CD4</text>
<text x="155.2" y="711.1" font-size="10" font-weight="bold" textLength="5" lengthAdjust="spacingAndGlyphs" stroke="#000" stroke-width="0.55">+</text>
<text x="164.5" y="716.1" font-size="14" font-weight="bold" textLength="7.6" lengthAdjust="spacingAndGlyphs" stroke="#000" stroke-width="0.42">T</text>
<text x="176.1" y="716.1" font-size="14.5" font-weight="normal" stroke="#000" stroke-width="0.45" textLength="34.6" lengthAdjust="spacingAndGlyphs">cells</text>
<rect x="223" y="705.9" width="199.5" height="13.4" fill="#000"/>
<rect transform="translate(225.2,708.8)" width="194.9" height="7.6" fill="url(#pF)"/>
<line x1="422.5" y1="712.6" x2="431.5" y2="712.6" stroke="#000" stroke-width="2.2"/>
<line x1="431.2" y1="708.5" x2="431.2" y2="716.7" stroke="#000" stroke-width="2.5"/>
<line x1="217.4" y1="733.5" x2="223" y2="733.5" stroke="#000" stroke-width="2"/>
<text x="15.8" y="739.1" font-size="14" font-weight="bold" textLength="138.2" lengthAdjust="spacingAndGlyphs" stroke="#000" stroke-width="0.42">ATRA-M2 (ITP) + CD4</text>
<text x="155.2" y="734.1" font-size="10" font-weight="bold" textLength="5" lengthAdjust="spacingAndGlyphs" stroke="#000" stroke-width="0.55">+</text>
<text x="164.5" y="739.1" font-size="14" font-weight="bold" textLength="7.6" lengthAdjust="spacingAndGlyphs" stroke="#000" stroke-width="0.42">T</text>
<text x="176.1" y="739.1" font-size="14.5" font-weight="normal" stroke="#000" stroke-width="0.45" textLength="34.6" lengthAdjust="spacingAndGlyphs">cells</text>
<rect x="223" y="726.8" width="114.3" height="13.4" fill="#000"/>
<rect transform="translate(225.2,729.6)" width="109.7" height="7.8" fill="url(#pA)"/>
<line x1="337.3" y1="733.5" x2="346.3" y2="733.5" stroke="#000" stroke-width="2.2"/>
<line x1="346" y1="729.4" x2="346" y2="737.6" stroke="#000" stroke-width="2.5"/>
<line x1="217.4" y1="749.3" x2="223" y2="749.3" stroke="#000" stroke-width="2"/>
<text x="0.8" y="754.9" font-size="14" font-weight="bold" textLength="153.2" lengthAdjust="spacingAndGlyphs" stroke="#000" stroke-width="0.42">HD-DXM-M2 (ITP) + CD4</text>
<text x="155.2" y="749.9" font-size="10" font-weight="bold" textLength="5" lengthAdjust="spacingAndGlyphs" stroke="#000" stroke-width="0.55">+</text>
<text x="164.5" y="754.9" font-size="14" font-weight="bold" textLength="7.6" lengthAdjust="spacingAndGlyphs" stroke="#000" stroke-width="0.42">T</text>
<text x="176.1" y="754.9" font-size="14.5" font-weight="normal" stroke="#000" stroke-width="0.45" textLength="34.6" lengthAdjust="spacingAndGlyphs">cells</text>
<rect x="223" y="742.6" width="108.3" height="13.4" fill="#000"/>
<rect transform="translate(225.2,745.4)" width="103.7" height="7.8" fill="url(#pB)"/>
<line x1="331.3" y1="749.3" x2="338.3" y2="749.3" stroke="#000" stroke-width="2.2"/>
<line x1="338" y1="745.2" x2="338" y2="753.4" stroke="#000" stroke-width="2.5"/>
<line x1="217.4" y1="765.2" x2="223" y2="765.2" stroke="#000" stroke-width="2"/>
<text x="58.3" y="770.8" font-size="14" font-weight="bold" textLength="95.7" lengthAdjust="spacingAndGlyphs" stroke="#000" stroke-width="0.42">M2 (ITP) + CD4</text>
<text x="155.2" y="765.8" font-size="10" font-weight="bold" textLength="5" lengthAdjust="spacingAndGlyphs" stroke="#000" stroke-width="0.55">+</text>
<text x="164.5" y="770.8" font-size="14" font-weight="bold" textLength="7.6" lengthAdjust="spacingAndGlyphs" stroke="#000" stroke-width="0.42">T</text>
<text x="176.1" y="770.8" font-size="14.5" font-weight="normal" stroke="#000" stroke-width="0.45" textLength="34.6" lengthAdjust="spacingAndGlyphs">cells</text>
<rect x="223" y="758.5" width="154.4" height="13.4" fill="#000"/>
<rect transform="translate(225.2,761.7)" width="149.8" height="7" fill="url(#pC)"/>
<line x1="377.4" y1="765.2" x2="385.4" y2="765.2" stroke="#000" stroke-width="2.2"/>
<line x1="385.1" y1="761.1" x2="385.1" y2="769.3" stroke="#000" stroke-width="2.5"/>
<line x1="217.4" y1="781" x2="223" y2="781" stroke="#000" stroke-width="2"/>
<text x="17.2" y="786.6" font-size="14" font-weight="bold" textLength="136.8" lengthAdjust="spacingAndGlyphs" stroke="#000" stroke-width="0.42">ATRA-M1 (ITP) + CD4</text>
<text x="155.2" y="781.6" font-size="10" font-weight="bold" textLength="5" lengthAdjust="spacingAndGlyphs" stroke="#000" stroke-width="0.55">+</text>
<text x="164.5" y="786.6" font-size="14" font-weight="bold" textLength="7.6" lengthAdjust="spacingAndGlyphs" stroke="#000" stroke-width="0.42">T</text>
<text x="176.1" y="786.6" font-size="14.5" font-weight="normal" stroke="#000" stroke-width="0.45" textLength="34.6" lengthAdjust="spacingAndGlyphs">cells</text>
<rect x="223" y="774.3" width="188.5" height="13.4" fill="#000"/>
<rect x="225.2" y="779.4" width="183.9" height="5.5" fill="#fff"/>
<line x1="411.5" y1="781" x2="422.5" y2="781" stroke="#000" stroke-width="2.2"/>
<line x1="422.2" y1="776.9" x2="422.2" y2="785.1" stroke="#000" stroke-width="2.5"/>
<line x1="217.4" y1="796.9" x2="223" y2="796.9" stroke="#000" stroke-width="2"/>
<text x="2.1" y="802.5" font-size="14" font-weight="bold" textLength="151.9" lengthAdjust="spacingAndGlyphs" stroke="#000" stroke-width="0.42">HD-DXM-M1 (ITP) + CD4</text>
<text x="155.2" y="797.5" font-size="10" font-weight="bold" textLength="5" lengthAdjust="spacingAndGlyphs" stroke="#000" stroke-width="0.55">+</text>
<text x="164.5" y="802.5" font-size="14" font-weight="bold" textLength="7.6" lengthAdjust="spacingAndGlyphs" stroke="#000" stroke-width="0.42">T</text>
<text x="176.1" y="802.5" font-size="14.5" font-weight="normal" stroke="#000" stroke-width="0.45" textLength="34.6" lengthAdjust="spacingAndGlyphs">cells</text>
<rect x="223" y="790.2" width="172.5" height="13.4" fill="#000"/>
<rect transform="translate(225.2,795.2)" width="167.9" height="5.5" fill="url(#pE)"/>
<line x1="395.5" y1="796.9" x2="406.5" y2="796.9" stroke="#000" stroke-width="2.2"/>
<line x1="406.2" y1="792.8" x2="406.2" y2="801" stroke="#000" stroke-width="2.5"/>
<line x1="217.4" y1="812.7" x2="223" y2="812.7" stroke="#000" stroke-width="2"/>
<text x="60.2" y="818.3" font-size="14" font-weight="bold" textLength="93.8" lengthAdjust="spacingAndGlyphs" stroke="#000" stroke-width="0.42">M1 (ITP) + CD4</text>
<text x="155.2" y="813.3" font-size="10" font-weight="bold" textLength="5" lengthAdjust="spacingAndGlyphs" stroke="#000" stroke-width="0.55">+</text>
<text x="164.5" y="818.3" font-size="14" font-weight="bold" textLength="7.6" lengthAdjust="spacingAndGlyphs" stroke="#000" stroke-width="0.42">T</text>
<text x="176.1" y="818.3" font-size="14.5" font-weight="normal" stroke="#000" stroke-width="0.45" textLength="34.6" lengthAdjust="spacingAndGlyphs">cells</text>
<rect x="223" y="806" width="235.9" height="13.4" fill="#000"/>
<rect transform="translate(225.2,808.9)" width="231.3" height="7.6" fill="url(#pF)"/>
<line x1="458.9" y1="812.7" x2="470.4" y2="812.7" stroke="#000" stroke-width="2.2"/>
<line x1="470.1" y1="808.6" x2="470.1" y2="816.8" stroke="#000" stroke-width="2.5"/>
<path d="M370.4,651 H376.4 V665 H370.4" fill="none" stroke="#000" stroke-width="2.2"/>
<text transform="translate(377.6,656.5) rotate(90)" font-size="8" font-weight="bold" text-anchor="middle" letter-spacing="1.6" stroke="#000" stroke-width="0.6">**</text>
<path d="M390.4,633 H397.5 V665 H390.4" fill="none" stroke="#000" stroke-width="2.2"/>
<text transform="translate(398.7,648.5) rotate(90)" font-size="8" font-weight="bold" text-anchor="middle" letter-spacing="1.6" stroke="#000" stroke-width="0.6">**</text>
<path d="M438.4,698.6 H443.6 V711.9 H438.4" fill="none" stroke="#000" stroke-width="2.2"/>
<text transform="translate(444.8,703.75) rotate(90)" font-size="8" font-weight="bold" text-anchor="middle" letter-spacing="1.6" stroke="#000" stroke-width="0.6">**</text>
<path d="M458.5,680 H464.5 V711.5 H458.5" fill="none" stroke="#000" stroke-width="2.2"/>
<text transform="translate(465.7,695.25) rotate(90)" font-size="8" font-weight="bold" text-anchor="middle" letter-spacing="1.6" stroke="#000" stroke-width="0.6">**</text>
<path d="M475.8,662.7 H481.9 V710.4 H475.8" fill="none" stroke="#000" stroke-width="2.2"/>
<text transform="translate(483.1,687.95) rotate(90)" font-size="8" font-weight="bold" text-anchor="middle" letter-spacing="1.6" stroke="#000" stroke-width="0.6">**</text>
<path d="M394.5,752 H399.5 V765 H394.5" fill="none" stroke="#000" stroke-width="2.2"/>
<text transform="translate(400.7,757) rotate(90)" font-size="8" font-weight="bold" text-anchor="middle" letter-spacing="1.6" stroke="#000" stroke-width="0.6">**</text>
<path d="M414.5,732 H420.5 V764 H414.5" fill="none" stroke="#000" stroke-width="2.2"/>
<text transform="translate(421.7,747.5) rotate(90)" font-size="8" font-weight="bold" text-anchor="middle" letter-spacing="1.6" stroke="#000" stroke-width="0.6">**</text>
<path d="M476.9,796 H482.7 V810 H476.9" fill="none" stroke="#000" stroke-width="2.2"/>
<text transform="translate(483.9,801.5) rotate(90)" font-size="8" font-weight="bold" text-anchor="middle" letter-spacing="1.6" stroke="#000" stroke-width="0.6">**</text>
<path d="M497,777.5 H502.2 V809 H497" fill="none" stroke="#000" stroke-width="2.2"/>
<text transform="translate(503.4,792.75) rotate(90)" font-size="8" font-weight="bold" text-anchor="middle" letter-spacing="1.6" stroke="#000" stroke-width="0.6">**</text>
<path d="M512.6,760.2 H518 V807.9 H512.6" fill="none" stroke="#000" stroke-width="2.2"/>
<text transform="translate(519.2,785.45) rotate(90)" font-size="8" font-weight="bold" text-anchor="middle" letter-spacing="1.6" stroke="#000" stroke-width="0.6">**</text>
<path d="M525.2,660.6 H531 V763.5 H525.2" fill="none" stroke="#000" stroke-width="2.2"/>
<text transform="translate(533.8,715.25) rotate(90)" font-size="8" font-weight="bold" text-anchor="middle" stroke="#000" stroke-width="0.6">*</text>
<path d="M547.3,709.3 H552.7 V812.2 H547.3" fill="none" stroke="#000" stroke-width="2.2"/>
<text transform="translate(555.5,763.95) rotate(90)" font-size="8" font-weight="bold" text-anchor="middle" stroke="#000" stroke-width="0.6">*</text>
<line x1="836" y1="616.8" x2="836" y2="825.5" stroke="#000" stroke-width="2.3"/>
<line x1="835" y1="819.3" x2="1108.6" y2="819.3" stroke="#000" stroke-width="2.6"/>
<line x1="836" y1="819.3" x2="836" y2="825.5" stroke="#000" stroke-width="2.3"/>
<text x="836" y="843.2" font-size="14" font-weight="bold" text-anchor="middle" textLength="18.4" lengthAdjust="spacingAndGlyphs" stroke="#000" stroke-width="0.55">0.0</text>
<line x1="903.7" y1="819.3" x2="903.7" y2="825.5" stroke="#000" stroke-width="2.3"/>
<text x="903.7" y="843.2" font-size="14" font-weight="bold" text-anchor="middle" textLength="18.4" lengthAdjust="spacingAndGlyphs" stroke="#000" stroke-width="0.55">0.5</text>
<line x1="971.6" y1="819.3" x2="971.6" y2="825.5" stroke="#000" stroke-width="2.3"/>
<text x="971.6" y="843.2" font-size="14" font-weight="bold" text-anchor="middle" textLength="18.4" lengthAdjust="spacingAndGlyphs" stroke="#000" stroke-width="0.55">1.0</text>
<line x1="1039.3" y1="819.3" x2="1039.3" y2="825.5" stroke="#000" stroke-width="2.3"/>
<text x="1039.3" y="843.2" font-size="14" font-weight="bold" text-anchor="middle" textLength="18.4" lengthAdjust="spacingAndGlyphs" stroke="#000" stroke-width="0.55">1.5</text>
<line x1="1107.4" y1="819.3" x2="1107.4" y2="825.5" stroke="#000" stroke-width="2.3"/>
<text x="1107.4" y="843.2" font-size="14" font-weight="bold" text-anchor="middle" textLength="18.4" lengthAdjust="spacingAndGlyphs" stroke="#000" stroke-width="0.55">2.0</text>
<text x="896.4" y="876" font-size="25.5" font-weight="bold" textLength="148" lengthAdjust="spacingAndGlyphs" stroke="#000" stroke-width="0.7">Division index</text>
<line x1="830.4" y1="627" x2="836" y2="627" stroke="#000" stroke-width="2"/>
<text x="629.5" y="632.1" font-size="14" font-weight="bold" textLength="138" lengthAdjust="spacingAndGlyphs" stroke="#000" stroke-width="0.42">ATRA-M2 (Ctr) + CD8</text>
<text x="768.7" y="627.1" font-size="10" font-weight="bold" textLength="5" lengthAdjust="spacingAndGlyphs" stroke="#000" stroke-width="0.55">+</text>
<text x="778.7" y="632.1" font-size="14" font-weight="bold" textLength="7.6" lengthAdjust="spacingAndGlyphs" stroke="#000" stroke-width="0.42">T</text>
<text x="790.3" y="632.1" font-size="14.5" font-weight="normal" stroke="#000" stroke-width="0.45" textLength="34.6" lengthAdjust="spacingAndGlyphs">cells</text>
<rect x="836" y="620.3" width="115.3" height="13.4" fill="#000"/>
<rect transform="translate(838.2,623.1)" width="110.7" height="7.8" fill="url(#pA)"/>
<line x1="951.3" y1="627" x2="958.3" y2="627" stroke="#000" stroke-width="2.2"/>
<line x1="958" y1="622.9" x2="958" y2="631.1" stroke="#000" stroke-width="2.5"/>
<line x1="830.4" y1="643.1" x2="836" y2="643.1" stroke="#000" stroke-width="2"/>
<text x="614.4" y="648.2" font-size="14" font-weight="bold" textLength="153.1" lengthAdjust="spacingAndGlyphs" stroke="#000" stroke-width="0.42">HD-DXM-M2 (Ctr) + CD8</text>
<text x="768.7" y="643.2" font-size="10" font-weight="bold" textLength="5" lengthAdjust="spacingAndGlyphs" stroke="#000" stroke-width="0.55">+</text>
<text x="778.7" y="648.2" font-size="14" font-weight="bold" textLength="7.6" lengthAdjust="spacingAndGlyphs" stroke="#000" stroke-width="0.42">T</text>
<text x="790.3" y="648.2" font-size="14.5" font-weight="normal" stroke="#000" stroke-width="0.45" textLength="34.6" lengthAdjust="spacingAndGlyphs">cells</text>
<rect x="836" y="636.4" width="105.9" height="13.4" fill="#000"/>
<rect transform="translate(838.2,639.2)" width="101.3" height="7.8" fill="url(#pB)"/>
<line x1="941.9" y1="643.1" x2="946.7" y2="643.1" stroke="#000" stroke-width="2.2"/>
<line x1="946.4" y1="639" x2="946.4" y2="647.2" stroke="#000" stroke-width="2.5"/>
<line x1="830.4" y1="659.2" x2="836" y2="659.2" stroke="#000" stroke-width="2"/>
<text x="672.6" y="664.3" font-size="14" font-weight="bold" textLength="94.9" lengthAdjust="spacingAndGlyphs" stroke="#000" stroke-width="0.42">M2 (Ctr) + CD8</text>
<text x="768.7" y="659.3" font-size="10" font-weight="bold" textLength="5" lengthAdjust="spacingAndGlyphs" stroke="#000" stroke-width="0.55">+</text>
<text x="778.7" y="664.3" font-size="14" font-weight="bold" textLength="7.6" lengthAdjust="spacingAndGlyphs" stroke="#000" stroke-width="0.42">T</text>
<text x="790.3" y="664.3" font-size="14.5" font-weight="normal" stroke="#000" stroke-width="0.45" textLength="34.6" lengthAdjust="spacingAndGlyphs">cells</text>
<rect x="836" y="652.5" width="142.4" height="13.4" fill="#000"/>
<rect transform="translate(838.2,655.7)" width="137.8" height="7" fill="url(#pC)"/>
<line x1="978.4" y1="659.2" x2="986" y2="659.2" stroke="#000" stroke-width="2.2"/>
<line x1="985.7" y1="655.1" x2="985.7" y2="663.3" stroke="#000" stroke-width="2.5"/>
<line x1="830.4" y1="675.3" x2="836" y2="675.3" stroke="#000" stroke-width="2"/>
<text x="631.1" y="680.4" font-size="14" font-weight="bold" textLength="136.4" lengthAdjust="spacingAndGlyphs" stroke="#000" stroke-width="0.42">ATRA-M1 (Ctr) + CD8</text>
<text x="768.7" y="675.4" font-size="10" font-weight="bold" textLength="5" lengthAdjust="spacingAndGlyphs" stroke="#000" stroke-width="0.55">+</text>
<text x="778.7" y="680.4" font-size="14" font-weight="bold" textLength="7.6" lengthAdjust="spacingAndGlyphs" stroke="#000" stroke-width="0.42">T</text>
<text x="790.3" y="680.4" font-size="14.5" font-weight="normal" stroke="#000" stroke-width="0.45" textLength="34.6" lengthAdjust="spacingAndGlyphs">cells</text>
<rect x="836" y="668.6" width="180.9" height="13.4" fill="#000"/>
<rect x="838.2" y="672" width="176.3" height="2.7" fill="#fff"/>
<rect x="838.2" y="677.6" width="176.3" height="1.8" fill="#fff"/>
<line x1="1016.9" y1="675.3" x2="1026.9" y2="675.3" stroke="#000" stroke-width="2.2"/>
<line x1="1026.6" y1="671.2" x2="1026.6" y2="679.4" stroke="#000" stroke-width="2.5"/>
<line x1="830.4" y1="691.4" x2="836" y2="691.4" stroke="#000" stroke-width="2"/>
<text x="615.4" y="696.5" font-size="14" font-weight="bold" textLength="152.1" lengthAdjust="spacingAndGlyphs" stroke="#000" stroke-width="0.42">HD-DXM-M1 (Ctr) + CD8</text>
<text x="768.7" y="691.5" font-size="10" font-weight="bold" textLength="5" lengthAdjust="spacingAndGlyphs" stroke="#000" stroke-width="0.55">+</text>
<text x="778.7" y="696.5" font-size="14" font-weight="bold" textLength="7.6" lengthAdjust="spacingAndGlyphs" stroke="#000" stroke-width="0.42">T</text>
<text x="790.3" y="696.5" font-size="14.5" font-weight="normal" stroke="#000" stroke-width="0.45" textLength="34.6" lengthAdjust="spacingAndGlyphs">cells</text>
<rect x="836" y="684.7" width="168.9" height="13.4" fill="#000"/>
<rect transform="translate(838.2,689.7)" width="164.3" height="5.5" fill="url(#pE)"/>
<line x1="1004.9" y1="691.4" x2="1014.5" y2="691.4" stroke="#000" stroke-width="2.2"/>
<line x1="1014.2" y1="687.3" x2="1014.2" y2="695.5" stroke="#000" stroke-width="2.5"/>
<line x1="830.4" y1="707.5" x2="836" y2="707.5" stroke="#000" stroke-width="2"/>
<text x="673.6" y="712.6" font-size="14" font-weight="bold" textLength="93.9" lengthAdjust="spacingAndGlyphs" stroke="#000" stroke-width="0.42">M1 (Ctr) + CD8</text>
<text x="768.7" y="707.6" font-size="10" font-weight="bold" textLength="5" lengthAdjust="spacingAndGlyphs" stroke="#000" stroke-width="0.55">+</text>
<text x="778.7" y="712.6" font-size="14" font-weight="bold" textLength="7.6" lengthAdjust="spacingAndGlyphs" stroke="#000" stroke-width="0.42">T</text>
<text x="790.3" y="712.6" font-size="14.5" font-weight="normal" stroke="#000" stroke-width="0.45" textLength="34.6" lengthAdjust="spacingAndGlyphs">cells</text>
<rect x="836" y="700.8" width="215.5" height="13.4" fill="#000"/>
<rect transform="translate(838.2,703.7)" width="210.9" height="7.6" fill="url(#pF)"/>
<line x1="1051.5" y1="707.5" x2="1063.6" y2="707.5" stroke="#000" stroke-width="2.2"/>
<line x1="1063.3" y1="703.4" x2="1063.3" y2="711.6" stroke="#000" stroke-width="2.5"/>
<line x1="830.4" y1="728.5" x2="836" y2="728.5" stroke="#000" stroke-width="2"/>
<text x="630.2" y="734.2" font-size="14" font-weight="bold" textLength="137.3" lengthAdjust="spacingAndGlyphs" stroke="#000" stroke-width="0.42">ATRA-M2 (ITP) + CD8</text>
<text x="768.7" y="729.2" font-size="10" font-weight="bold" textLength="5" lengthAdjust="spacingAndGlyphs" stroke="#000" stroke-width="0.55">+</text>
<text x="778.7" y="734.2" font-size="14" font-weight="bold" textLength="7.6" lengthAdjust="spacingAndGlyphs" stroke="#000" stroke-width="0.42">T</text>
<text x="790.3" y="734.2" font-size="14.5" font-weight="normal" stroke="#000" stroke-width="0.45" textLength="34.6" lengthAdjust="spacingAndGlyphs">cells</text>
<rect x="836" y="721.8" width="138" height="13.4" fill="#000"/>
<rect transform="translate(838.2,724.6)" width="133.4" height="7.8" fill="url(#pA)"/>
<line x1="974" y1="728.5" x2="980.4" y2="728.5" stroke="#000" stroke-width="2.2"/>
<line x1="980.1" y1="724.4" x2="980.1" y2="732.6" stroke="#000" stroke-width="2.5"/>
<line x1="830.4" y1="744.6" x2="836" y2="744.6" stroke="#000" stroke-width="2"/>
<text x="614.6" y="750.3" font-size="14" font-weight="bold" textLength="152.9" lengthAdjust="spacingAndGlyphs" stroke="#000" stroke-width="0.42">HD-DXM-M2 (ITP) + CD8</text>
<text x="768.7" y="745.3" font-size="10" font-weight="bold" textLength="5" lengthAdjust="spacingAndGlyphs" stroke="#000" stroke-width="0.55">+</text>
<text x="778.7" y="750.3" font-size="14" font-weight="bold" textLength="7.6" lengthAdjust="spacingAndGlyphs" stroke="#000" stroke-width="0.42">T</text>
<text x="790.3" y="750.3" font-size="14.5" font-weight="normal" stroke="#000" stroke-width="0.45" textLength="34.6" lengthAdjust="spacingAndGlyphs">cells</text>
<rect x="836" y="737.9" width="130" height="13.4" fill="#000"/>
<rect transform="translate(838.2,740.7)" width="125.4" height="7.8" fill="url(#pB)"/>
<line x1="966" y1="744.6" x2="972.4" y2="744.6" stroke="#000" stroke-width="2.2"/>
<line x1="972.1" y1="740.5" x2="972.1" y2="748.7" stroke="#000" stroke-width="2.5"/>
<line x1="830.4" y1="760.7" x2="836" y2="760.7" stroke="#000" stroke-width="2"/>
<text x="672.9" y="766.4" font-size="14" font-weight="bold" textLength="94.6" lengthAdjust="spacingAndGlyphs" stroke="#000" stroke-width="0.42">M2 (ITP) + CD8</text>
<text x="768.7" y="761.4" font-size="10" font-weight="bold" textLength="5" lengthAdjust="spacingAndGlyphs" stroke="#000" stroke-width="0.55">+</text>
<text x="778.7" y="766.4" font-size="14" font-weight="bold" textLength="7.6" lengthAdjust="spacingAndGlyphs" stroke="#000" stroke-width="0.42">T</text>
<text x="790.3" y="766.4" font-size="14.5" font-weight="normal" stroke="#000" stroke-width="0.45" textLength="34.6" lengthAdjust="spacingAndGlyphs">cells</text>
<rect x="836" y="754" width="167.5" height="13.4" fill="#000"/>
<rect transform="translate(838.2,757.2)" width="162.9" height="7" fill="url(#pC)"/>
<line x1="1003.5" y1="760.7" x2="1010.1" y2="760.7" stroke="#000" stroke-width="2.2"/>
<line x1="1009.8" y1="756.6" x2="1009.8" y2="764.8" stroke="#000" stroke-width="2.5"/>
<line x1="830.4" y1="776.8" x2="836" y2="776.8" stroke="#000" stroke-width="2"/>
<text x="630.9" y="782.5" font-size="14" font-weight="bold" textLength="136.6" lengthAdjust="spacingAndGlyphs" stroke="#000" stroke-width="0.42">ATRA-M1 (ITP) + CD8</text>
<text x="768.7" y="777.5" font-size="10" font-weight="bold" textLength="5" lengthAdjust="spacingAndGlyphs" stroke="#000" stroke-width="0.55">+</text>
<text x="778.7" y="782.5" font-size="14" font-weight="bold" textLength="7.6" lengthAdjust="spacingAndGlyphs" stroke="#000" stroke-width="0.42">T</text>
<text x="790.3" y="782.5" font-size="14.5" font-weight="normal" stroke="#000" stroke-width="0.45" textLength="34.6" lengthAdjust="spacingAndGlyphs">cells</text>
<rect x="836" y="770.1" width="207.7" height="13.4" fill="#000"/>
<rect x="838.2" y="775" width="203.1" height="6.2" fill="#fff"/>
<line x1="1043.7" y1="776.8" x2="1053.5" y2="776.8" stroke="#000" stroke-width="2.2"/>
<line x1="1053.2" y1="772.7" x2="1053.2" y2="780.9" stroke="#000" stroke-width="2.5"/>
<line x1="830.4" y1="792.9" x2="836" y2="792.9" stroke="#000" stroke-width="2"/>
<text x="615.4" y="798.6" font-size="14" font-weight="bold" textLength="152.1" lengthAdjust="spacingAndGlyphs" stroke="#000" stroke-width="0.42">HD-DXM-M1 (ITP) + CD8</text>
<text x="768.7" y="793.6" font-size="10" font-weight="bold" textLength="5" lengthAdjust="spacingAndGlyphs" stroke="#000" stroke-width="0.55">+</text>
<text x="778.7" y="798.6" font-size="14" font-weight="bold" textLength="7.6" lengthAdjust="spacingAndGlyphs" stroke="#000" stroke-width="0.42">T</text>
<text x="790.3" y="798.6" font-size="14.5" font-weight="normal" stroke="#000" stroke-width="0.45" textLength="34.6" lengthAdjust="spacingAndGlyphs">cells</text>
<rect x="836" y="786.2" width="188.9" height="13.4" fill="#000"/>
<rect transform="translate(838.2,791.2)" width="184.3" height="5.5" fill="url(#pE)"/>
<line x1="1024.9" y1="792.9" x2="1033.5" y2="792.9" stroke="#000" stroke-width="2.2"/>
<line x1="1033.2" y1="788.8" x2="1033.2" y2="797" stroke="#000" stroke-width="2.5"/>
<line x1="830.4" y1="809" x2="836" y2="809" stroke="#000" stroke-width="2"/>
<text x="673.9" y="814.7" font-size="14" font-weight="bold" textLength="93.6" lengthAdjust="spacingAndGlyphs" stroke="#000" stroke-width="0.42">M1 (ITP) + CD8</text>
<text x="768.7" y="809.7" font-size="10" font-weight="bold" textLength="5" lengthAdjust="spacingAndGlyphs" stroke="#000" stroke-width="0.55">+</text>
<text x="778.7" y="814.7" font-size="14" font-weight="bold" textLength="7.6" lengthAdjust="spacingAndGlyphs" stroke="#000" stroke-width="0.42">T</text>
<text x="790.3" y="814.7" font-size="14.5" font-weight="normal" stroke="#000" stroke-width="0.45" textLength="34.6" lengthAdjust="spacingAndGlyphs">cells</text>
<rect x="836" y="802.3" width="251.5" height="13.4" fill="#000"/>
<rect transform="translate(838.2,805.2)" width="246.9" height="7.6" fill="url(#pF)"/>
<line x1="1087.5" y1="809" x2="1098" y2="809" stroke="#000" stroke-width="2.2"/>
<line x1="1097.7" y1="804.9" x2="1097.7" y2="813.1" stroke="#000" stroke-width="2.5"/>
<path d="M1000.4,646 H1005.5 V659 H1000.4" fill="none" stroke="#000" stroke-width="2.2"/>
<text transform="translate(1006.7,651) rotate(90)" font-size="8" font-weight="bold" text-anchor="middle" letter-spacing="1.6" stroke="#000" stroke-width="0.6">**</text>
<path d="M1021,627 H1026.8 V659.2 H1021" fill="none" stroke="#000" stroke-width="2.2"/>
<text transform="translate(1028,642.6) rotate(90)" font-size="8" font-weight="bold" text-anchor="middle" letter-spacing="1.6" stroke="#000" stroke-width="0.6">**</text>
<path d="M1070.4,692.7 H1076.6 V706.4 H1070.4" fill="none" stroke="#000" stroke-width="2.2"/>
<text transform="translate(1077.8,698.05) rotate(90)" font-size="8" font-weight="bold" text-anchor="middle" letter-spacing="1.6" stroke="#000" stroke-width="0.6">**</text>
<path d="M1090.3,674.5 H1096.7 V706.4 H1090.3" fill="none" stroke="#000" stroke-width="2.2"/>
<text transform="translate(1097.9,689.95) rotate(90)" font-size="8" font-weight="bold" text-anchor="middle" letter-spacing="1.6" stroke="#000" stroke-width="0.6">**</text>
<path d="M1105.3,656.9 H1111.5 V705.3 H1105.3" fill="none" stroke="#000" stroke-width="2.2"/>
<text transform="translate(1112.7,682.5) rotate(90)" font-size="8" font-weight="bold" text-anchor="middle" letter-spacing="1.6" stroke="#000" stroke-width="0.6">**</text>
<path d="M1019.5,747 H1024.5 V760 H1019.5" fill="none" stroke="#000" stroke-width="2.2"/>
<text transform="translate(1025.7,752) rotate(90)" font-size="8" font-weight="bold" text-anchor="middle" letter-spacing="1.6" stroke="#000" stroke-width="0.6">**</text>
<path d="M1039.5,727.6 H1045.6 V759.7 H1039.5" fill="none" stroke="#000" stroke-width="2.2"/>
<text transform="translate(1046.8,743.15) rotate(90)" font-size="8" font-weight="bold" text-anchor="middle" letter-spacing="1.6" stroke="#000" stroke-width="0.6">**</text>
<path d="M1104.6,792.4 H1110.3 V805.6 H1104.6" fill="none" stroke="#000" stroke-width="2.2"/>
<text transform="translate(1111.5,797.5) rotate(90)" font-size="8" font-weight="bold" text-anchor="middle" letter-spacing="1.6" stroke="#000" stroke-width="0.6">**</text>
<path d="M1122.9,773.2 H1128.6 V805.1 H1122.9" fill="none" stroke="#000" stroke-width="2.2"/>
<text transform="translate(1129.8,788.65) rotate(90)" font-size="8" font-weight="bold" text-anchor="middle" letter-spacing="1.6" stroke="#000" stroke-width="0.6">**</text>
<path d="M1135.9,754.3 H1141.8 V803.3 H1135.9" fill="none" stroke="#000" stroke-width="2.2"/>
<text transform="translate(1143,780.2) rotate(90)" font-size="8" font-weight="bold" text-anchor="middle" letter-spacing="1.6" stroke="#000" stroke-width="0.6">**</text>
<path d="M1155.5,653.3 H1161 V756.6 H1155.5" fill="none" stroke="#000" stroke-width="2.2"/>
<text transform="translate(1163.8,708.15) rotate(90)" font-size="8" font-weight="bold" text-anchor="middle" stroke="#000" stroke-width="0.6">*</text>
<path d="M1181,704.1 H1186.7 V807.9 H1181" fill="none" stroke="#000" stroke-width="2.2"/>
<text transform="translate(1189.5,759.2) rotate(90)" font-size="8" font-weight="bold" text-anchor="middle" stroke="#000" stroke-width="0.6">*</text>
</g>
</svg>
</body></html>
